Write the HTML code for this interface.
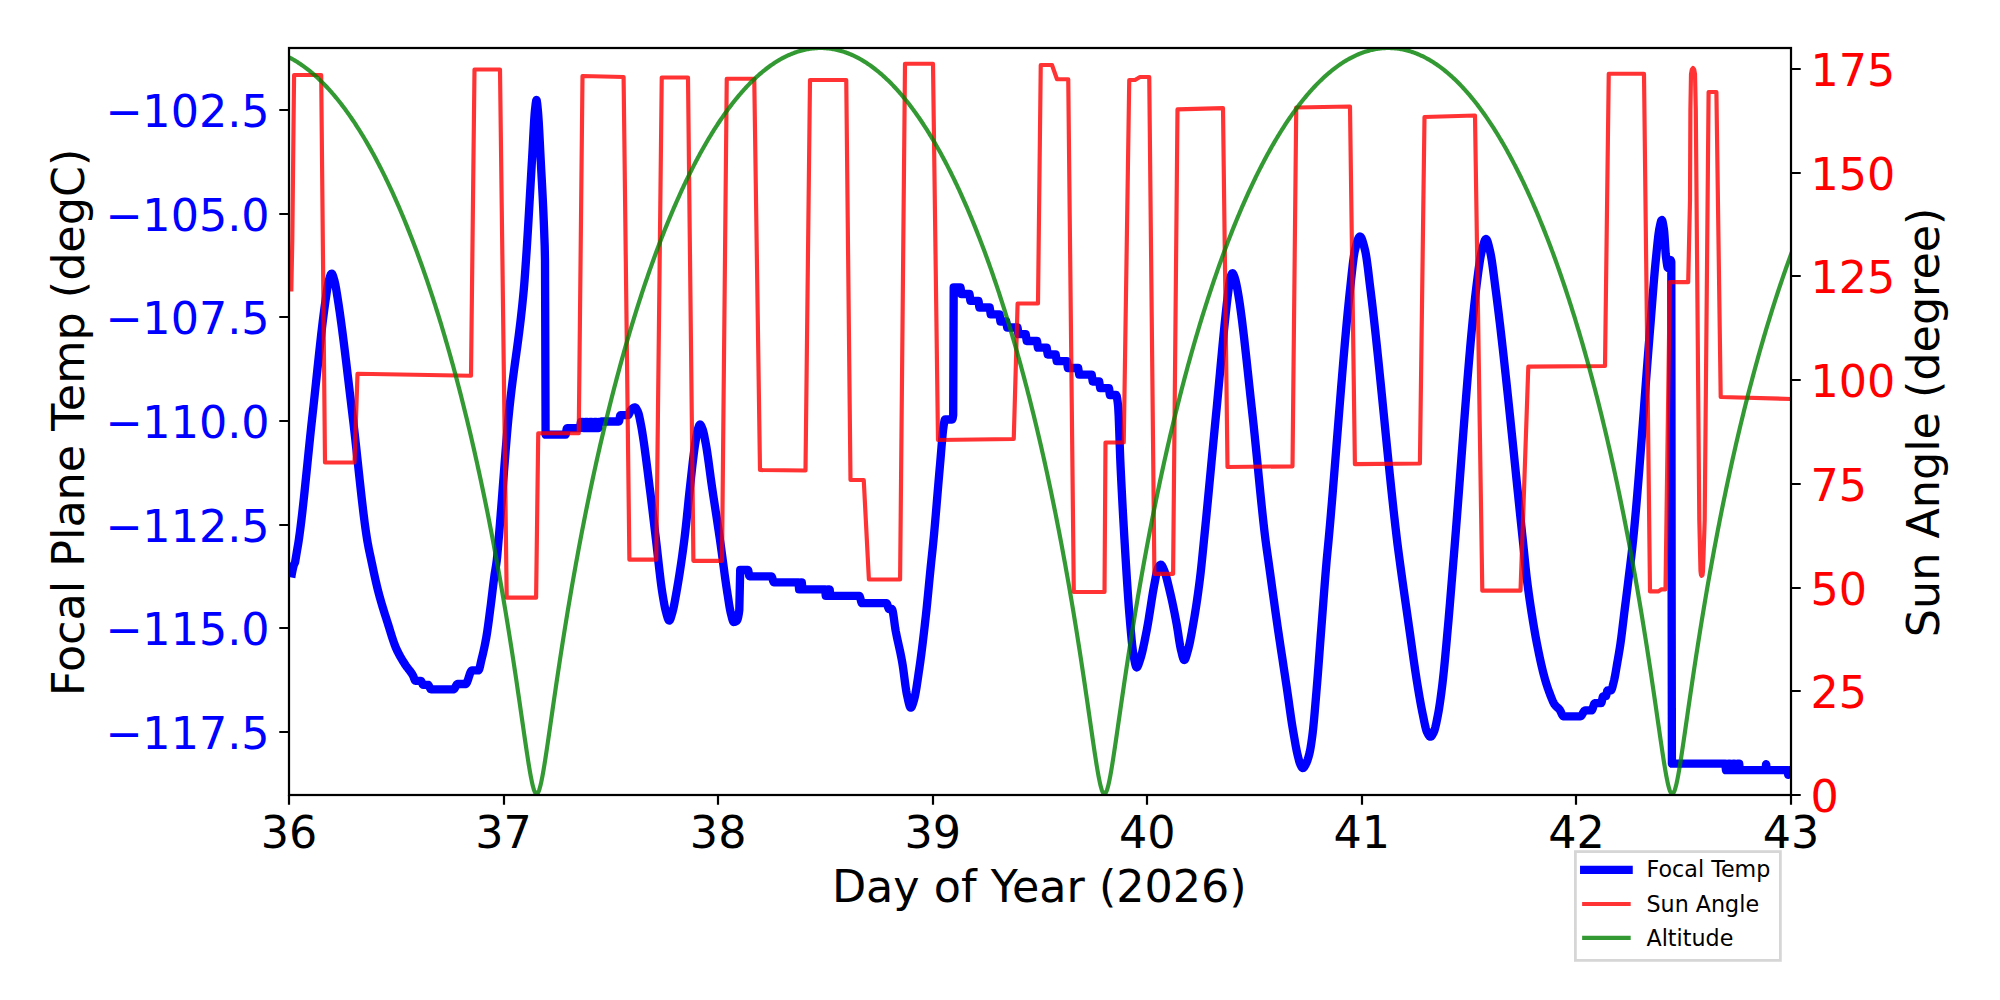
<!DOCTYPE html>
<html><head><meta charset="utf-8"><title>Focal Plane Temp</title>
<style>html,body{margin:0;padding:0;background:#fff}svg{display:block}text{font-family:"DejaVu Sans","Liberation Sans",sans-serif}</style></head><body>
<svg width="2000" height="1000" viewBox="0 0 2000 1000">
<rect width="2000" height="1000" fill="#fff"/>
<defs><clipPath id="ax"><rect x="289.0" y="48.0" width="1502.0" height="747.0"/></clipPath></defs>
<g clip-path="url(#ax)" fill="none" stroke-linejoin="round">
<path d="M291.20,577.50 L291.70,574.58 L292.20,571.92 L292.60,570.00 L292.70,569.55 L293.20,567.33 L293.70,565.40 L294.00,564.50 L294.20,564.05 L294.70,563.21 L295.00,562.50 L295.20,561.68 L295.70,558.60 L295.80,558.00 L296.20,555.63 L296.70,552.60 L296.80,552.00 L297.20,549.66 L297.70,546.80 L298.20,543.86 L298.70,540.68 L298.80,540.00 L299.20,537.19 L299.70,533.54 L300.20,529.73 L300.70,525.78 L301.20,521.69 L301.70,517.49 L302.20,513.17 L302.70,508.74 L303.20,504.22 L303.70,499.62 L304.20,494.94 L304.70,490.19 L305.20,485.39 L305.70,480.54 L306.20,475.66 L306.70,470.75 L307.20,465.82 L307.70,460.88 L308.20,455.95 L308.70,451.02 L309.20,446.12 L309.70,441.25 L310.20,436.42 L310.70,431.64 L311.20,426.92 L311.70,422.27 L312.20,417.70 L312.50,415.00 L312.70,413.21 L313.20,408.68 L313.70,404.10 L314.20,399.48 L314.70,394.82 L315.20,390.13 L315.70,385.42 L316.20,380.70 L316.70,375.98 L317.20,371.26 L317.70,366.55 L318.20,361.86 L318.70,357.20 L319.20,352.57 L319.70,347.99 L320.20,343.46 L320.70,338.99 L321.20,334.59 L321.70,330.26 L322.20,326.02 L322.70,321.86 L323.20,317.81 L323.70,313.87 L324.20,310.04 L324.70,306.33 L325.20,302.76 L325.60,300.00 L325.70,299.32 L326.20,295.89 L326.70,292.48 L327.20,289.20 L327.70,286.14 L328.20,283.42 L328.70,281.13 L329.00,280.00 L329.20,279.31 L329.70,277.58 L330.20,275.98 L330.70,274.68 L331.20,273.83 L331.60,273.60 L331.70,273.61 L332.20,274.08 L332.70,275.09 L333.20,276.50 L333.70,278.17 L334.20,279.94 L334.50,281.00 L334.70,281.73 L335.20,283.89 L335.70,286.44 L336.20,289.29 L336.70,292.35 L337.20,295.52 L337.70,298.73 L337.90,300.00 L338.20,301.91 L338.70,305.17 L339.20,308.52 L339.70,311.96 L340.20,315.48 L340.70,319.07 L341.20,322.73 L341.70,326.46 L342.20,330.26 L342.70,334.11 L343.20,338.02 L343.70,341.98 L344.20,345.98 L344.70,350.02 L345.20,354.10 L345.70,358.21 L346.20,362.35 L346.70,366.51 L347.20,370.69 L347.70,374.89 L348.20,379.09 L348.70,383.30 L349.20,387.51 L349.70,391.72 L350.20,395.92 L350.70,400.10 L351.20,404.27 L351.70,408.42 L352.20,412.54 L352.50,415.00 L352.70,416.64 L353.20,420.83 L353.70,425.10 L354.20,429.46 L354.70,433.89 L355.20,438.39 L355.70,442.94 L356.20,447.53 L356.70,452.16 L357.20,456.82 L357.70,461.49 L358.20,466.16 L358.70,470.83 L359.20,475.49 L359.70,480.12 L360.20,484.72 L360.70,489.27 L361.20,493.77 L361.70,498.20 L362.20,502.57 L362.70,506.85 L363.20,511.03 L363.70,515.12 L364.20,519.09 L364.70,522.94 L365.20,526.65 L365.70,530.23 L366.20,533.65 L366.70,536.91 L367.20,540.00 L367.70,542.90 L368.20,545.61 L368.70,548.18 L369.20,550.63 L369.70,553.01 L370.20,555.34 L370.70,557.66 L371.20,560.00 L371.70,562.37 L372.20,564.73 L372.70,567.09 L373.20,569.43 L373.70,571.76 L374.20,574.07 L374.70,576.35 L375.20,578.61 L375.70,580.82 L376.20,583.00 L376.70,585.14 L377.20,587.22 L377.70,589.25 L378.20,591.23 L378.40,592.00 L378.70,593.14 L379.20,595.02 L379.70,596.85 L380.20,598.65 L380.70,600.41 L381.20,602.14 L381.70,603.85 L382.20,605.53 L382.70,607.18 L383.20,608.82 L383.70,610.44 L384.20,612.04 L384.70,613.63 L385.20,615.21 L385.70,616.78 L386.20,618.35 L386.70,619.92 L387.20,621.49 L387.70,623.06 L388.00,624.00 L388.20,624.63 L388.70,626.23 L389.20,627.84 L389.70,629.47 L390.20,631.10 L390.70,632.72 L391.20,634.33 L391.70,635.93 L392.20,637.51 L392.70,639.05 L393.20,640.56 L393.70,642.02 L394.20,643.43 L394.70,644.79 L395.20,646.08 L395.70,647.30 L396.00,648.00 L396.20,648.45 L396.70,649.55 L397.20,650.62 L397.70,651.66 L398.20,652.66 L398.70,653.64 L399.20,654.58 L399.70,655.51 L400.20,656.41 L400.70,657.29 L401.20,658.15 L401.70,659.00 L402.20,659.83 L402.70,660.65 L403.20,661.46 L403.70,662.26 L404.20,663.05 L404.70,663.84 L404.80,664.00 L405.20,664.62 L405.70,665.36 L406.20,666.06 L406.70,666.74 L407.20,667.41 L407.70,668.05 L408.20,668.69 L408.70,669.32 L409.20,669.96 L409.70,670.61 L410.20,671.27 L410.70,671.96 L411.20,672.67 L411.70,673.42 L412.20,674.20 L412.70,675.03 L412.80,675.20 L413.20,676.03 L413.70,677.34 L414.20,678.72 L414.70,679.90 L415.20,680.66 L415.50,680.80 L415.70,680.80 L416.20,680.80 L416.70,680.80 L417.20,680.80 L417.70,680.80 L418.20,680.80 L418.70,680.80 L419.20,680.80 L419.70,680.80 L420.20,680.80 L420.70,680.80 L420.80,680.80 L421.20,681.10 L421.70,682.07 L422.20,683.30 L422.70,684.35 L423.20,684.80 L423.70,684.80 L424.20,684.80 L424.70,684.80 L425.20,684.80 L425.70,684.80 L426.20,684.80 L426.70,684.80 L427.20,684.80 L427.70,684.80 L428.00,684.80 L428.20,684.86 L428.70,685.42 L429.20,686.38 L429.70,687.50 L430.20,688.51 L430.70,689.17 L431.00,689.30 L431.20,689.30 L431.70,689.30 L432.20,689.30 L432.70,689.30 L433.20,689.30 L433.70,689.30 L434.20,689.30 L434.70,689.30 L435.20,689.30 L435.70,689.30 L436.20,689.30 L436.70,689.30 L437.20,689.30 L437.70,689.30 L438.20,689.30 L438.70,689.30 L439.20,689.30 L439.70,689.30 L440.20,689.30 L440.70,689.30 L441.20,689.30 L441.70,689.30 L442.20,689.30 L442.70,689.30 L443.20,689.30 L443.70,689.30 L444.20,689.30 L444.70,689.30 L445.20,689.30 L445.70,689.30 L446.20,689.30 L446.70,689.30 L447.20,689.30 L447.70,689.30 L448.20,689.30 L448.70,689.30 L449.20,689.30 L449.70,689.30 L450.20,689.30 L450.70,689.30 L451.20,689.30 L451.70,689.30 L452.20,689.30 L452.70,689.30 L453.20,689.30 L453.60,689.30 L453.70,689.29 L454.20,688.98 L454.70,688.32 L455.20,687.43 L455.70,686.45 L456.20,685.49 L456.70,684.68 L457.20,684.15 L457.60,684.00 L457.70,684.00 L458.20,684.00 L458.70,684.00 L459.20,684.00 L459.70,684.00 L460.20,684.00 L460.70,684.00 L461.20,684.00 L461.70,684.00 L462.20,684.00 L462.70,684.00 L463.20,684.00 L463.70,684.00 L464.20,684.00 L464.70,684.00 L465.20,684.00 L465.60,684.00 L465.70,683.99 L466.20,683.66 L466.70,682.93 L467.20,681.88 L467.70,680.57 L468.20,679.09 L468.70,677.52 L469.20,675.93 L469.70,674.41 L470.20,673.02 L470.70,671.86 L471.20,670.98 L471.70,670.49 L472.00,670.40 L472.20,670.40 L472.70,670.40 L473.20,670.40 L473.70,670.40 L474.20,670.40 L474.70,670.40 L475.20,670.40 L475.70,670.40 L476.20,670.40 L476.70,670.40 L477.20,670.40 L477.70,670.40 L478.20,670.40 L478.40,670.40 L478.70,670.22 L479.20,669.24 L479.70,667.60 L480.20,665.51 L480.70,663.20 L481.20,660.89 L481.60,659.20 L481.70,658.80 L482.20,656.79 L482.70,654.73 L483.20,652.60 L483.70,650.40 L484.20,648.12 L484.70,645.74 L485.20,643.26 L485.70,640.66 L486.20,637.93 L486.40,636.80 L486.70,635.03 L487.20,631.86 L487.70,628.44 L488.20,624.83 L488.70,621.08 L489.20,617.24 L489.70,613.37 L490.20,609.52 L490.40,608.00 L490.70,605.69 L491.20,601.72 L491.70,597.63 L492.20,593.48 L492.70,589.34 L493.20,585.25 L493.70,581.27 L494.20,577.46 L494.40,576.00 L494.70,573.93 L495.20,570.78 L495.70,567.75 L496.20,564.53 L496.70,560.83 L496.80,560.00 L497.20,556.23 L497.70,550.70 L498.20,544.73 L498.60,540.00 L498.70,538.84 L499.20,532.95 L499.70,526.89 L500.20,520.69 L500.70,514.38 L501.20,507.98 L501.70,501.50 L502.20,494.97 L502.70,488.41 L503.20,481.85 L503.70,475.30 L504.20,468.79 L504.70,462.33 L505.20,455.96 L505.70,449.70 L506.20,443.56 L506.70,437.56 L507.20,431.74 L507.70,426.11 L508.20,420.69 L508.70,415.50 L508.75,415.00 L509.20,410.55 L509.70,405.78 L510.20,401.19 L510.70,396.75 L511.20,392.46 L511.70,388.30 L512.20,384.26 L512.70,380.32 L513.20,376.46 L513.70,372.68 L514.20,368.96 L514.70,365.28 L515.20,361.64 L515.70,358.01 L516.20,354.38 L516.70,350.74 L517.20,347.08 L517.70,343.37 L518.20,339.61 L518.70,335.78 L519.20,331.86 L519.70,327.85 L520.20,323.73 L520.70,319.48 L521.20,315.09 L521.70,310.55 L522.20,305.84 L522.70,300.94 L523.20,295.85 L523.70,290.54 L523.75,290.00 L524.20,284.80 L524.70,278.40 L525.20,271.53 L525.70,264.36 L526.00,260.00 L526.20,257.06 L526.70,249.48 L527.20,241.61 L527.70,233.50 L528.20,225.18 L528.70,216.71 L529.20,208.13 L529.70,199.47 L530.20,190.79 L530.70,182.13 L531.20,173.53 L531.70,165.03 L532.00,160.00 L532.20,156.57 L532.70,147.38 L533.20,137.82 L533.70,128.50 L534.20,120.07 L534.70,113.16 L535.00,110.00 L535.20,108.15 L535.70,103.69 L536.20,100.60 L536.50,100.00 L536.70,100.34 L537.20,103.55 L537.70,108.71 L538.00,112.00 L538.20,114.31 L538.70,121.51 L539.20,130.27 L539.70,139.99 L540.20,150.10 L540.70,160.00 L541.20,169.40 L541.70,178.59 L542.20,187.90 L542.70,197.62 L543.20,208.07 L543.70,219.57 L544.20,232.41 L544.40,238.00 L544.70,246.26 L545.00,260.00 L545.20,311.08 L545.60,434.70 L545.70,434.70 L546.20,434.70 L546.70,434.70 L547.20,434.70 L547.70,434.70 L548.20,434.70 L548.70,434.70 L549.20,434.70 L549.70,434.70 L550.20,434.70 L550.70,434.70 L551.20,434.70 L551.70,434.70 L552.20,434.70 L552.70,434.70 L553.20,434.70 L553.70,434.70 L554.20,434.70 L554.70,434.70 L555.20,434.70 L555.70,434.70 L556.20,434.70 L556.70,434.70 L557.20,434.70 L557.70,434.70 L558.20,434.70 L558.70,434.70 L559.20,434.70 L559.70,434.70 L560.20,434.70 L560.70,434.70 L561.20,434.70 L561.70,434.70 L562.20,434.70 L562.70,434.70 L563.20,434.70 L563.70,434.70 L564.20,434.70 L564.70,434.70 L565.20,434.70 L565.50,434.70 L565.70,434.38 L566.20,431.73 L566.70,428.79 L567.00,428.10 L567.20,428.10 L567.70,428.10 L568.20,428.10 L568.70,428.10 L569.20,428.10 L569.70,428.10 L570.20,428.10 L570.70,428.10 L571.20,428.10 L571.70,428.10 L572.20,428.10 L572.70,428.10 L573.20,428.10 L573.70,428.10 L574.20,428.10 L574.70,428.10 L575.20,428.10 L575.70,428.10 L576.20,428.10 L576.70,428.10 L577.20,428.10 L577.70,428.10 L578.20,428.10 L578.70,428.10 L579.20,428.10 L579.70,428.10 L580.00,428.10 L580.20,427.47 L580.70,423.32 L581.00,422.00 L581.20,422.00 L581.70,422.00 L582.20,422.00 L582.70,422.00 L582.80,422.00 L583.20,425.70 L583.50,428.10 L583.70,428.10 L584.20,428.10 L584.70,428.10 L584.80,428.10 L585.20,424.40 L585.50,422.00 L585.70,422.00 L586.20,422.00 L586.70,422.00 L587.20,422.00 L587.30,422.00 L587.70,425.70 L588.00,428.10 L588.20,428.10 L588.70,428.10 L589.20,428.10 L589.30,428.10 L589.70,424.40 L590.00,422.00 L590.20,422.00 L590.70,422.00 L591.20,422.00 L591.70,422.00 L591.80,422.00 L592.20,425.70 L592.50,428.10 L592.70,428.10 L593.20,428.10 L593.70,428.10 L593.80,428.10 L594.20,424.40 L594.50,422.00 L594.70,422.00 L595.20,422.00 L595.70,422.00 L596.20,422.00 L596.30,422.00 L596.70,425.70 L597.00,428.10 L597.20,428.10 L597.70,428.10 L598.20,428.10 L598.30,428.10 L598.70,424.40 L599.00,422.00 L599.20,422.00 L599.70,422.00 L600.20,422.00 L600.50,422.00 L600.70,421.95 L601.20,421.61 L601.50,421.50 L601.70,421.50 L602.20,421.50 L602.70,421.50 L603.20,421.50 L603.70,421.50 L604.20,421.50 L604.70,421.50 L605.20,421.50 L605.70,421.50 L606.20,421.50 L606.70,421.50 L607.20,421.50 L607.70,421.50 L608.20,421.50 L608.70,421.50 L609.20,421.50 L609.70,421.50 L610.20,421.50 L610.70,421.50 L611.20,421.50 L611.70,421.50 L612.20,421.50 L612.70,421.50 L613.20,421.50 L613.70,421.50 L614.20,421.50 L614.70,421.50 L615.20,421.50 L615.70,421.50 L616.20,421.50 L616.70,421.50 L617.20,421.50 L617.70,421.50 L618.20,421.50 L618.70,421.50 L618.90,421.50 L619.20,420.84 L619.70,418.04 L620.20,415.51 L620.40,415.20 L620.70,415.20 L621.20,415.20 L621.70,415.20 L622.20,415.20 L622.70,415.20 L623.20,415.20 L623.70,415.20 L624.20,415.20 L624.70,415.20 L625.20,415.20 L625.70,415.20 L626.20,415.20 L626.70,415.20 L627.20,415.20 L627.70,415.20 L628.00,415.20 L628.20,415.15 L628.70,414.61 L629.20,413.66 L629.70,412.50 L630.20,411.34 L630.70,410.39 L631.00,410.00 L631.20,409.80 L631.70,409.30 L632.20,408.83 L632.70,408.39 L633.20,408.01 L633.70,407.70 L634.20,407.49 L634.70,407.40 L634.80,407.40 L635.20,407.50 L635.70,407.89 L636.20,408.52 L636.70,409.34 L637.20,410.30 L637.70,411.35 L638.00,412.00 L638.20,412.48 L638.70,414.03 L639.20,416.02 L639.70,418.31 L640.20,420.82 L640.70,423.43 L641.00,425.00 L641.20,426.06 L641.70,428.82 L642.20,431.77 L642.70,434.87 L643.20,438.12 L643.70,441.51 L644.20,445.02 L644.70,448.63 L645.20,452.34 L645.70,456.13 L646.20,459.98 L646.70,463.89 L647.20,467.83 L647.70,471.80 L648.20,475.78 L648.70,479.76 L649.20,483.72 L649.70,487.66 L650.00,490.00 L650.20,491.56 L650.70,495.53 L651.20,499.57 L651.70,503.67 L652.20,507.83 L652.70,512.03 L653.20,516.26 L653.70,520.51 L654.20,524.77 L654.70,529.02 L655.20,533.27 L655.70,537.48 L656.00,540.00 L656.20,541.69 L656.70,546.00 L657.20,550.42 L657.70,554.92 L658.20,559.45 L658.70,563.97 L659.20,568.45 L659.70,572.83 L660.20,577.08 L660.70,581.17 L661.20,585.04 L661.70,588.67 L662.20,592.00 L662.70,595.14 L663.20,598.19 L663.70,601.12 L664.20,603.88 L664.70,606.45 L665.20,608.80 L665.70,610.89 L666.00,612.00 L666.20,612.72 L666.70,614.56 L667.20,616.37 L667.70,618.02 L668.20,619.36 L668.70,620.27 L669.20,620.60 L669.70,620.29 L670.20,619.43 L670.70,618.15 L671.20,616.57 L671.70,614.83 L672.20,613.04 L672.50,612.00 L672.70,611.30 L673.20,609.33 L673.70,607.10 L674.20,604.66 L674.70,602.06 L675.20,599.33 L675.70,596.53 L676.20,593.69 L676.50,592.00 L676.70,590.87 L677.20,588.00 L677.70,585.07 L678.20,582.08 L678.70,579.03 L679.20,575.91 L679.70,572.73 L680.20,569.47 L680.70,566.15 L681.20,562.75 L681.70,559.28 L682.20,555.74 L682.70,552.12 L683.20,548.42 L683.70,544.64 L684.20,540.78 L684.30,540.00 L684.70,536.78 L685.20,532.51 L685.70,528.03 L686.20,523.37 L686.70,518.58 L687.20,513.71 L687.70,508.80 L688.20,503.90 L688.70,499.05 L689.20,494.30 L689.70,489.68 L690.00,487.00 L690.20,485.23 L690.70,480.74 L691.20,476.19 L691.70,471.65 L692.20,467.15 L692.70,462.74 L693.20,458.48 L693.70,454.40 L694.20,450.55 L694.70,446.98 L695.00,445.00 L695.20,443.72 L695.70,440.54 L696.20,437.49 L696.70,434.65 L697.20,432.13 L697.70,430.02 L698.00,429.00 L698.20,428.37 L698.70,426.82 L699.20,425.49 L699.70,424.66 L700.00,424.50 L700.20,424.54 L700.70,425.00 L701.20,425.86 L701.70,426.98 L702.20,428.24 L702.50,429.00 L702.70,429.54 L703.20,431.19 L703.70,433.19 L704.20,435.48 L704.70,437.99 L705.20,440.64 L705.70,443.36 L706.00,445.00 L706.20,446.11 L706.70,449.06 L707.20,452.23 L707.70,455.59 L708.20,459.11 L708.70,462.74 L709.20,466.45 L709.70,470.21 L710.20,473.97 L710.70,477.70 L711.20,481.37 L711.70,484.93 L712.00,487.00 L712.20,488.36 L712.70,491.73 L713.20,495.07 L713.70,498.38 L714.20,501.67 L714.70,504.94 L715.20,508.20 L715.70,511.45 L716.20,514.70 L716.70,517.96 L717.20,521.23 L717.70,524.51 L718.20,527.82 L718.70,531.16 L719.20,534.53 L719.70,537.93 L720.00,540.00 L720.20,541.39 L720.70,544.93 L721.20,548.56 L721.70,552.24 L722.20,555.97 L722.70,559.73 L723.20,563.49 L723.70,567.26 L724.20,571.00 L724.70,574.69 L725.20,578.34 L725.70,581.91 L726.20,585.38 L726.70,588.75 L727.20,592.00 L727.70,595.22 L728.20,598.47 L728.70,601.69 L729.20,604.80 L729.70,607.73 L730.20,610.41 L730.70,612.77 L731.00,614.00 L731.20,614.79 L731.70,616.81 L732.20,618.76 L732.70,620.42 L733.20,621.57 L733.70,622.00 L734.20,621.96 L734.70,621.86 L735.20,621.69 L735.70,621.47 L736.20,621.19 L736.50,621.00 L736.70,620.84 L737.20,620.13 L737.70,618.89 L738.20,617.00 L738.70,614.35 L739.20,610.82 L739.30,610.00 L739.70,592.28 L740.20,570.00 L740.70,570.00 L741.20,570.00 L741.70,570.00 L742.20,570.00 L742.70,570.00 L743.20,570.00 L743.70,570.00 L744.20,570.00 L744.70,570.00 L745.20,570.00 L745.70,570.00 L746.20,570.00 L746.70,570.00 L747.20,570.00 L747.70,570.00 L748.00,570.00 L748.20,570.31 L748.70,572.88 L749.20,575.73 L749.50,576.40 L749.70,576.40 L750.20,576.40 L750.70,576.40 L751.20,576.40 L751.70,576.40 L752.20,576.40 L752.70,576.40 L753.20,576.40 L753.70,576.40 L754.20,576.40 L754.70,576.40 L755.20,576.40 L755.70,576.40 L756.20,576.40 L756.70,576.40 L757.20,576.40 L757.70,576.40 L758.20,576.40 L758.70,576.40 L759.20,576.40 L759.70,576.40 L760.20,576.40 L760.70,576.40 L761.20,576.40 L761.70,576.40 L762.20,576.40 L762.70,576.40 L763.20,576.40 L763.70,576.40 L764.20,576.40 L764.70,576.40 L765.20,576.40 L765.70,576.40 L766.20,576.40 L766.70,576.40 L767.20,576.40 L767.70,576.40 L768.20,576.40 L768.70,576.40 L769.20,576.40 L769.70,576.40 L770.20,576.40 L770.70,576.40 L771.20,576.40 L771.40,576.40 L771.70,576.62 L772.20,577.75 L772.70,579.40 L773.20,581.05 L773.70,582.18 L774.00,582.40 L774.20,582.40 L774.70,582.40 L775.20,582.40 L775.70,582.40 L776.20,582.40 L776.70,582.40 L777.20,582.40 L777.70,582.40 L778.20,582.40 L778.70,582.40 L779.20,582.40 L779.70,582.40 L780.20,582.40 L780.70,582.40 L781.20,582.40 L781.70,582.40 L782.20,582.40 L782.70,582.40 L783.20,582.40 L783.70,582.40 L784.20,582.40 L784.70,582.40 L785.20,582.40 L785.70,582.40 L786.20,582.40 L786.70,582.40 L787.20,582.40 L787.70,582.40 L788.20,582.40 L788.70,582.40 L789.20,582.40 L789.70,582.40 L790.20,582.40 L790.70,582.40 L791.20,582.40 L791.70,582.40 L792.20,582.40 L792.70,582.40 L793.20,582.40 L793.70,582.40 L794.20,582.40 L794.70,582.40 L795.20,582.40 L795.70,582.40 L796.20,582.40 L796.70,582.40 L797.20,582.40 L797.70,582.40 L798.20,582.40 L798.50,582.40 L798.70,584.21 L799.10,589.40 L799.20,589.40 L799.70,589.40 L800.20,589.40 L800.70,582.92 L800.80,582.40 L801.20,582.40 L801.70,582.40 L801.80,582.40 L802.20,586.64 L802.50,589.40 L802.70,589.40 L803.20,589.40 L803.70,589.40 L804.20,589.40 L804.70,589.40 L805.20,589.40 L805.70,589.40 L806.20,589.40 L806.70,589.40 L807.20,589.40 L807.70,589.40 L808.20,589.40 L808.70,589.40 L809.20,589.40 L809.70,589.40 L810.20,589.40 L810.70,589.40 L811.20,589.40 L811.70,589.40 L812.20,589.40 L812.70,589.40 L813.20,589.40 L813.70,589.40 L814.20,589.40 L814.70,589.40 L815.20,589.40 L815.70,589.40 L816.20,589.40 L816.70,589.40 L817.20,589.40 L817.70,589.40 L818.20,589.40 L818.70,589.40 L819.20,589.40 L819.70,589.40 L820.20,589.40 L820.70,589.40 L821.20,589.40 L821.70,589.40 L822.20,589.40 L822.70,589.40 L823.20,589.40 L823.70,589.40 L824.20,589.40 L824.70,589.40 L825.20,589.40 L825.70,595.42 L825.80,595.90 L826.20,595.90 L826.70,595.90 L827.20,595.90 L827.70,589.88 L827.80,589.40 L828.20,589.40 L828.70,589.40 L829.20,589.40 L829.60,589.40 L829.70,589.68 L830.20,594.88 L830.40,595.90 L830.70,595.90 L831.20,595.90 L831.70,595.90 L832.20,595.90 L832.70,595.90 L833.20,595.90 L833.70,595.90 L834.20,595.90 L834.70,595.90 L835.20,595.90 L835.70,595.90 L836.20,595.90 L836.70,595.90 L837.20,595.90 L837.70,595.90 L838.20,595.90 L838.70,595.90 L839.20,595.90 L839.70,595.90 L840.20,595.90 L840.70,595.90 L841.20,595.90 L841.70,595.90 L842.20,595.90 L842.70,595.90 L843.20,595.90 L843.70,595.90 L844.20,595.90 L844.70,595.90 L845.20,595.90 L845.70,595.90 L846.20,595.90 L846.70,595.90 L847.20,595.90 L847.70,595.90 L848.20,595.90 L848.70,595.90 L849.20,595.90 L849.70,595.90 L850.20,595.90 L850.70,595.90 L851.20,595.90 L851.70,595.90 L852.20,595.90 L852.70,595.90 L853.20,595.90 L853.70,595.90 L854.20,595.90 L854.70,595.90 L855.20,595.90 L855.70,595.90 L856.20,595.90 L856.70,595.90 L857.20,595.90 L857.70,595.90 L858.20,595.90 L858.70,595.90 L859.20,595.90 L859.30,595.90 L859.70,596.33 L860.20,597.79 L860.70,599.75 L861.20,601.66 L861.70,602.95 L862.00,603.20 L862.20,603.20 L862.70,603.20 L863.20,603.20 L863.70,603.20 L864.20,603.20 L864.70,603.20 L865.20,603.20 L865.70,603.20 L866.20,603.20 L866.70,603.20 L867.20,603.20 L867.70,603.20 L868.20,603.20 L868.70,603.20 L869.20,603.20 L869.70,603.20 L870.20,603.20 L870.70,603.20 L871.20,603.20 L871.70,603.20 L872.20,603.20 L872.70,603.20 L873.20,603.20 L873.70,603.20 L874.20,603.20 L874.70,603.20 L875.20,603.20 L875.70,603.20 L876.20,603.20 L876.70,603.20 L877.20,603.20 L877.70,603.20 L878.20,603.20 L878.70,603.20 L879.20,603.20 L879.70,603.20 L880.20,603.20 L880.70,603.20 L881.20,603.20 L881.70,603.20 L882.20,603.20 L882.70,603.20 L883.20,603.20 L883.70,603.20 L884.20,603.20 L884.70,603.20 L885.20,603.20 L885.70,603.20 L886.20,603.20 L886.60,603.20 L886.70,603.23 L887.20,604.11 L887.70,605.74 L888.20,607.50 L888.70,608.75 L889.00,609.00 L889.20,609.00 L889.70,609.00 L890.20,609.00 L890.70,609.00 L891.20,609.00 L891.70,609.00 L891.80,609.00 L892.20,609.45 L892.70,611.14 L893.20,613.79 L893.70,617.10 L894.20,620.77 L894.70,624.52 L895.20,628.02 L895.70,631.00 L896.20,633.55 L896.70,635.99 L897.20,638.34 L897.70,640.63 L898.20,642.87 L898.70,645.10 L899.20,647.34 L899.70,649.61 L900.20,651.93 L900.70,654.32 L901.20,656.82 L901.70,659.44 L902.20,662.20 L902.70,665.27 L903.20,668.71 L903.70,672.41 L904.20,676.26 L904.70,680.13 L905.20,683.91 L905.70,687.48 L906.20,690.74 L906.70,693.56 L907.00,695.00 L907.20,695.90 L907.70,698.20 L908.20,700.49 L908.70,702.65 L909.20,704.57 L909.70,706.13 L910.20,707.20 L910.70,707.69 L910.80,707.70 L911.20,707.51 L911.70,706.82 L912.20,705.71 L912.70,704.30 L913.20,702.69 L913.70,701.01 L914.00,700.00 L914.20,699.30 L914.70,697.29 L915.20,694.93 L915.70,692.27 L916.20,689.35 L916.70,686.23 L917.20,682.96 L917.70,679.58 L918.20,676.15 L918.70,672.72 L919.10,670.00 L919.20,669.32 L919.70,665.87 L920.20,662.30 L920.70,658.62 L921.20,654.84 L921.70,650.96 L922.20,646.99 L922.70,642.93 L923.20,638.79 L923.70,634.58 L924.20,630.30 L924.70,625.95 L925.20,621.56 L925.60,618.00 L925.70,617.10 L926.20,612.49 L926.70,607.70 L927.20,602.75 L927.70,597.70 L928.20,592.56 L928.70,587.39 L929.20,582.21 L929.70,577.05 L930.20,571.97 L930.70,566.98 L930.80,566.00 L931.20,562.14 L931.70,557.42 L932.20,552.72 L932.70,547.97 L933.20,543.06 L933.50,540.00 L933.70,537.91 L934.20,532.54 L934.70,527.00 L935.20,521.31 L935.70,515.50 L936.20,509.60 L936.70,503.65 L937.20,497.66 L937.70,491.68 L938.20,485.73 L938.70,479.83 L939.20,474.03 L939.70,468.34 L940.00,465.00 L940.20,462.75 L940.70,456.84 L941.20,450.73 L941.70,444.63 L942.20,438.81 L942.70,433.48 L943.20,428.90 L943.70,425.30 L943.75,425.00 L944.20,422.30 L944.70,419.98 L945.00,419.50 L945.20,419.50 L945.70,419.50 L946.20,419.50 L946.70,419.50 L947.20,419.50 L947.70,419.50 L948.20,419.50 L948.70,419.50 L949.20,419.50 L949.70,419.50 L950.20,419.50 L950.70,419.50 L951.20,419.50 L951.70,419.50 L952.00,419.50 L952.20,419.40 L952.70,418.14 L953.20,415.00 L953.70,287.40 L954.20,287.40 L954.70,287.40 L955.20,287.40 L955.70,287.40 L956.20,287.40 L956.70,287.40 L957.20,287.40 L957.70,287.40 L958.20,287.40 L958.70,287.40 L959.20,287.40 L959.70,287.40 L960.20,287.40 L960.45,287.40 L960.70,288.43 L961.20,292.97 L961.45,294.00 L961.70,294.00 L962.20,294.00 L962.70,294.00 L963.20,294.00 L963.70,294.00 L964.20,294.00 L964.70,294.00 L965.20,294.00 L965.70,294.00 L966.20,294.00 L966.70,294.00 L967.20,294.00 L967.70,294.00 L968.20,294.00 L968.70,294.00 L969.20,294.00 L969.45,294.00 L969.70,295.08 L970.20,299.82 L970.45,300.90 L970.70,300.90 L971.20,300.90 L971.70,300.90 L972.20,300.90 L972.70,300.90 L973.20,300.90 L973.70,300.90 L974.20,300.90 L974.70,300.90 L975.20,300.90 L975.70,300.90 L976.20,300.90 L976.70,300.90 L977.20,300.90 L977.70,300.90 L978.20,300.90 L978.45,300.90 L978.70,301.93 L979.20,306.47 L979.45,307.50 L979.70,307.50 L980.20,307.50 L980.70,307.50 L981.20,307.50 L981.70,307.50 L982.20,307.50 L982.70,307.50 L983.20,307.50 L983.70,307.50 L984.20,307.50 L984.70,307.50 L985.20,307.50 L985.70,307.50 L986.20,307.50 L986.70,307.50 L987.20,307.50 L987.70,307.50 L988.20,307.50 L988.70,307.50 L989.20,307.50 L989.70,307.50 L990.20,310.95 L990.70,314.40 L991.20,314.40 L991.70,314.40 L992.20,314.40 L992.70,314.40 L993.20,314.40 L993.70,314.40 L994.20,314.40 L994.70,314.40 L995.20,314.40 L995.70,314.40 L996.20,314.40 L996.70,314.40 L997.20,314.40 L997.70,314.40 L998.20,314.40 L998.70,314.40 L999.20,314.40 L999.45,314.40 L999.70,315.51 L1000.20,320.39 L1000.45,321.50 L1000.70,321.50 L1001.20,321.50 L1001.70,321.50 L1002.20,321.50 L1002.70,321.50 L1003.20,321.50 L1003.70,321.50 L1004.20,321.50 L1004.70,321.50 L1005.20,321.50 L1005.70,321.50 L1006.20,321.50 L1006.70,324.50 L1007.20,327.50 L1007.70,327.50 L1008.20,327.50 L1008.70,327.50 L1009.20,327.50 L1009.70,327.50 L1010.20,327.50 L1010.70,327.50 L1011.20,327.50 L1011.70,327.50 L1012.20,327.50 L1012.70,327.50 L1013.20,327.50 L1013.70,327.50 L1014.20,327.50 L1014.70,327.50 L1015.20,327.50 L1015.70,327.50 L1016.20,327.50 L1016.70,327.50 L1017.20,327.50 L1017.45,327.50 L1017.70,328.55 L1018.20,333.15 L1018.45,334.20 L1018.70,334.20 L1019.20,334.20 L1019.70,334.20 L1020.20,334.20 L1020.70,334.20 L1021.20,334.20 L1021.70,334.20 L1022.20,334.20 L1022.70,334.20 L1023.20,334.20 L1023.70,334.20 L1024.20,334.20 L1024.70,334.20 L1025.20,334.20 L1025.70,334.20 L1026.20,337.60 L1026.70,341.00 L1027.20,341.00 L1027.70,341.00 L1028.20,341.00 L1028.70,341.00 L1029.20,341.00 L1029.70,341.00 L1030.20,341.00 L1030.70,341.00 L1031.20,341.00 L1031.70,341.00 L1032.20,341.00 L1032.70,341.00 L1033.20,341.00 L1033.70,341.00 L1034.20,341.00 L1034.70,341.00 L1035.20,341.00 L1035.70,341.00 L1036.20,341.00 L1036.70,341.00 L1036.95,341.00 L1037.20,342.05 L1037.70,346.65 L1037.95,347.70 L1038.20,347.70 L1038.70,347.70 L1039.20,347.70 L1039.70,347.70 L1040.20,347.70 L1040.70,347.70 L1041.20,347.70 L1041.70,347.70 L1042.20,347.70 L1042.70,347.70 L1043.20,347.70 L1043.70,347.70 L1044.20,347.70 L1044.70,347.70 L1045.20,347.70 L1045.70,347.70 L1046.20,347.70 L1046.70,347.70 L1047.20,351.10 L1047.70,354.50 L1048.20,354.50 L1048.70,354.50 L1049.20,354.50 L1049.70,354.50 L1050.20,354.50 L1050.70,354.50 L1051.20,354.50 L1051.70,354.50 L1052.20,354.50 L1052.70,354.50 L1053.20,354.50 L1053.70,354.50 L1054.20,354.50 L1054.70,354.50 L1055.20,354.50 L1055.70,354.50 L1056.20,357.85 L1056.70,361.20 L1057.20,361.20 L1057.70,361.20 L1058.20,361.20 L1058.70,361.20 L1059.20,361.20 L1059.70,361.20 L1060.20,361.20 L1060.70,361.20 L1061.20,361.20 L1061.70,361.20 L1062.20,361.20 L1062.70,361.20 L1063.20,361.20 L1063.70,361.20 L1064.20,361.20 L1064.70,361.20 L1065.20,361.20 L1065.70,361.20 L1066.20,361.20 L1066.70,361.20 L1066.95,361.20 L1067.20,362.26 L1067.70,366.94 L1067.95,368.00 L1068.20,368.00 L1068.70,368.00 L1069.20,368.00 L1069.70,368.00 L1070.20,368.00 L1070.70,368.00 L1071.20,368.00 L1071.70,368.00 L1072.20,368.00 L1072.70,368.00 L1073.20,368.00 L1073.70,368.00 L1074.20,368.00 L1074.70,368.00 L1075.20,368.00 L1075.70,368.00 L1076.20,368.00 L1076.70,368.00 L1077.20,368.00 L1077.70,368.00 L1078.20,368.00 L1078.70,371.35 L1079.20,374.70 L1079.70,374.70 L1080.20,374.70 L1080.70,374.70 L1081.20,374.70 L1081.70,374.70 L1082.20,374.70 L1082.70,374.70 L1083.20,374.70 L1083.70,374.70 L1084.20,374.70 L1084.70,374.70 L1085.20,374.70 L1085.70,374.70 L1086.20,374.70 L1086.70,374.70 L1087.20,374.70 L1087.70,374.70 L1088.20,374.70 L1088.70,374.70 L1089.20,374.70 L1089.70,374.70 L1090.20,374.70 L1090.70,374.70 L1091.20,374.70 L1091.70,374.70 L1092.20,378.10 L1092.70,381.50 L1093.20,381.50 L1093.70,381.50 L1094.20,381.50 L1094.70,381.50 L1095.20,381.50 L1095.70,381.50 L1096.20,381.50 L1096.70,381.50 L1097.20,381.50 L1097.70,381.50 L1098.20,381.50 L1098.70,381.50 L1099.20,381.50 L1099.70,384.85 L1100.20,388.20 L1100.70,388.20 L1101.20,388.20 L1101.70,388.20 L1102.20,388.20 L1102.70,388.20 L1103.20,388.20 L1103.70,388.20 L1104.20,388.20 L1104.70,388.20 L1105.20,388.20 L1105.70,388.20 L1106.20,388.20 L1106.70,388.20 L1107.20,388.20 L1107.70,388.20 L1108.20,388.20 L1108.70,388.20 L1108.95,388.20 L1109.20,389.26 L1109.70,393.94 L1109.95,395.00 L1110.20,395.00 L1110.70,395.00 L1111.20,395.00 L1111.70,395.00 L1112.20,395.00 L1112.70,395.00 L1113.20,395.00 L1113.70,395.00 L1114.20,395.00 L1114.70,395.00 L1115.20,395.00 L1115.70,395.00 L1116.20,395.00 L1116.70,396.01 L1117.20,398.68 L1117.70,402.44 L1118.00,405.00 L1118.20,407.26 L1118.70,416.65 L1119.20,429.67 L1119.70,444.16 L1120.20,457.95 L1120.50,465.00 L1120.70,469.22 L1121.20,479.52 L1121.70,489.48 L1122.20,499.11 L1122.70,508.46 L1123.20,517.53 L1123.70,526.35 L1124.20,534.94 L1124.50,540.00 L1124.70,543.35 L1125.20,551.69 L1125.70,559.95 L1126.20,568.09 L1126.70,576.06 L1127.20,583.83 L1127.70,591.34 L1128.20,598.56 L1128.70,605.44 L1129.20,611.93 L1129.70,618.00 L1130.20,623.84 L1130.70,629.62 L1131.20,635.20 L1131.70,640.47 L1132.20,645.31 L1132.70,649.59 L1133.20,653.21 L1133.50,655.00 L1133.70,656.10 L1134.20,658.86 L1134.70,661.49 L1135.20,663.83 L1135.70,665.70 L1136.20,666.95 L1136.70,667.40 L1137.20,667.13 L1137.70,666.38 L1138.20,665.27 L1138.70,663.91 L1139.20,662.41 L1139.70,660.88 L1140.00,660.00 L1140.20,659.41 L1140.70,657.82 L1141.20,656.07 L1141.70,654.18 L1142.20,652.15 L1142.70,650.01 L1143.20,647.76 L1143.70,645.43 L1144.20,643.03 L1144.70,640.58 L1145.20,638.08 L1145.70,635.56 L1146.20,633.02 L1146.60,631.00 L1146.70,630.49 L1147.20,627.84 L1147.70,625.04 L1148.20,622.11 L1148.70,619.07 L1149.20,615.95 L1149.70,612.77 L1150.20,609.54 L1150.70,606.31 L1151.20,603.08 L1151.70,599.89 L1152.20,596.75 L1152.70,593.69 L1153.20,590.74 L1153.70,587.91 L1154.20,585.23 L1154.40,584.20 L1154.70,582.65 L1155.20,579.96 L1155.70,577.24 L1156.20,574.63 L1156.70,572.24 L1157.20,570.21 L1157.70,568.65 L1158.00,568.00 L1158.20,567.65 L1158.70,566.80 L1159.20,566.04 L1159.70,565.41 L1160.20,564.96 L1160.70,564.72 L1160.90,564.70 L1161.20,564.78 L1161.70,565.23 L1162.20,566.00 L1162.70,567.00 L1163.20,568.13 L1163.70,569.31 L1164.00,570.00 L1164.20,570.46 L1164.70,571.76 L1165.20,573.22 L1165.70,574.83 L1166.20,576.57 L1166.70,578.42 L1167.20,580.36 L1167.70,582.37 L1168.20,584.44 L1168.70,586.53 L1169.20,588.64 L1169.70,590.75 L1170.00,592.00 L1170.20,592.83 L1170.70,594.96 L1171.20,597.14 L1171.70,599.38 L1172.20,601.66 L1172.70,604.00 L1173.20,606.38 L1173.70,608.81 L1174.20,611.29 L1174.70,613.81 L1175.20,616.37 L1175.70,618.97 L1176.20,621.60 L1176.50,623.20 L1176.70,624.30 L1177.20,627.25 L1177.70,630.43 L1178.20,633.73 L1178.70,637.06 L1179.20,640.32 L1179.70,643.41 L1180.20,646.25 L1180.70,648.73 L1181.00,650.00 L1181.20,650.80 L1181.70,652.88 L1182.20,654.93 L1182.70,656.81 L1183.20,658.37 L1183.70,659.48 L1184.20,659.98 L1184.30,660.00 L1184.70,659.81 L1185.20,659.08 L1185.70,657.92 L1186.20,656.43 L1186.70,654.72 L1187.20,652.89 L1187.70,651.06 L1188.00,650.00 L1188.20,649.29 L1188.70,647.38 L1189.20,645.28 L1189.70,643.01 L1190.20,640.59 L1190.70,638.04 L1191.20,635.39 L1191.70,632.65 L1192.20,629.85 L1192.70,627.01 L1193.20,624.15 L1193.40,623.00 L1193.70,621.27 L1194.20,618.33 L1194.70,615.33 L1195.20,612.25 L1195.70,609.09 L1196.20,605.85 L1196.70,602.52 L1197.20,599.11 L1197.70,595.60 L1198.20,592.00 L1198.70,588.30 L1199.20,584.50 L1199.70,580.59 L1199.90,579.00 L1200.20,576.54 L1200.70,572.21 L1201.20,567.64 L1201.70,562.89 L1202.20,557.99 L1202.70,553.01 L1203.20,547.98 L1203.70,542.98 L1204.00,540.00 L1204.20,538.02 L1204.70,533.04 L1205.20,528.01 L1205.70,522.93 L1206.20,517.81 L1206.70,512.66 L1207.20,507.47 L1207.70,502.26 L1208.20,497.02 L1208.70,491.75 L1209.20,486.48 L1209.70,481.18 L1210.20,475.88 L1210.70,470.57 L1211.20,465.26 L1211.70,459.96 L1212.20,454.66 L1212.70,449.37 L1213.20,444.09 L1213.70,438.84 L1214.20,433.60 L1214.70,428.39 L1215.20,423.21 L1215.70,418.07 L1216.00,415.00 L1216.20,412.95 L1216.70,407.78 L1217.20,402.55 L1217.70,397.26 L1218.20,391.93 L1218.70,386.57 L1219.20,381.19 L1219.70,375.79 L1220.20,370.39 L1220.70,365.00 L1221.20,359.63 L1221.70,354.29 L1222.20,348.99 L1222.70,343.74 L1223.20,338.55 L1223.70,333.43 L1224.20,328.40 L1224.70,323.45 L1225.20,318.61 L1225.70,313.89 L1226.20,309.28 L1226.70,304.82 L1227.20,300.49 L1227.70,296.32 L1228.20,292.32 L1228.50,290.00 L1228.70,288.45 L1229.20,284.53 L1229.70,280.99 L1230.20,278.37 L1230.30,278.00 L1230.70,276.69 L1231.20,275.20 L1231.70,274.02 L1232.20,273.33 L1232.50,273.20 L1232.70,273.26 L1233.20,273.85 L1233.70,274.91 L1234.20,276.27 L1234.70,277.72 L1234.80,278.00 L1235.20,279.26 L1235.70,281.15 L1236.20,283.35 L1236.70,285.79 L1237.20,288.39 L1237.50,290.00 L1237.70,291.10 L1238.20,293.96 L1238.70,296.98 L1239.20,300.16 L1239.70,303.49 L1240.20,306.96 L1240.70,310.56 L1241.20,314.29 L1241.70,318.13 L1242.20,322.08 L1242.70,326.14 L1243.20,330.29 L1243.70,334.52 L1244.20,338.84 L1244.70,343.22 L1245.20,347.67 L1245.70,352.18 L1246.20,356.73 L1246.70,361.32 L1247.20,365.95 L1247.70,370.60 L1248.20,375.27 L1248.70,379.94 L1249.20,384.62 L1249.70,389.30 L1250.20,393.96 L1250.70,398.59 L1251.20,403.20 L1251.70,407.78 L1252.20,412.31 L1252.50,415.00 L1252.70,416.80 L1253.20,421.37 L1253.70,426.04 L1254.20,430.81 L1254.70,435.65 L1255.20,440.57 L1255.70,445.54 L1256.20,450.56 L1256.70,455.63 L1257.20,460.72 L1257.70,465.83 L1258.20,470.95 L1258.70,476.06 L1259.20,481.16 L1259.70,486.24 L1260.20,491.29 L1260.70,496.29 L1261.20,501.23 L1261.70,506.11 L1262.20,510.92 L1262.70,515.64 L1263.20,520.26 L1263.70,524.78 L1264.20,529.18 L1264.70,533.45 L1265.20,537.59 L1265.50,540.00 L1265.70,541.57 L1266.20,545.31 L1266.70,548.88 L1267.20,552.35 L1267.70,555.79 L1268.20,559.29 L1268.30,560.00 L1268.70,562.87 L1269.20,566.46 L1269.70,570.07 L1270.20,573.69 L1270.70,577.31 L1271.20,580.94 L1271.70,584.57 L1272.20,588.20 L1272.70,591.83 L1273.20,595.45 L1273.70,599.06 L1274.20,602.66 L1274.70,606.25 L1275.20,609.83 L1275.70,613.38 L1276.20,616.92 L1276.70,620.43 L1277.20,623.92 L1277.50,626.00 L1277.70,627.38 L1278.20,630.81 L1278.70,634.21 L1279.20,637.58 L1279.70,640.93 L1280.20,644.25 L1280.70,647.57 L1281.20,650.87 L1281.70,654.16 L1282.20,657.44 L1282.70,660.72 L1283.20,664.00 L1283.70,667.28 L1284.20,670.57 L1284.70,673.87 L1285.20,677.18 L1285.70,680.51 L1286.20,683.86 L1286.70,687.23 L1287.20,690.63 L1287.40,692.00 L1287.70,694.07 L1288.20,697.59 L1288.70,701.16 L1289.20,704.76 L1289.70,708.36 L1290.20,711.93 L1290.70,715.44 L1291.20,718.85 L1291.70,722.16 L1291.80,722.80 L1292.20,725.33 L1292.70,728.40 L1293.20,731.38 L1293.70,734.29 L1294.00,736.00 L1294.20,737.14 L1294.70,740.01 L1295.20,742.87 L1295.70,745.67 L1296.20,748.36 L1296.70,750.88 L1297.20,753.17 L1297.30,753.60 L1297.70,755.29 L1298.20,757.36 L1298.70,759.34 L1299.20,761.17 L1299.70,762.79 L1300.20,764.14 L1300.50,764.80 L1300.70,765.20 L1301.20,766.21 L1301.70,767.10 L1302.20,767.77 L1302.70,768.09 L1302.80,768.10 L1303.20,767.99 L1303.70,767.58 L1304.20,766.94 L1304.70,766.16 L1305.20,765.31 L1305.50,764.80 L1305.70,764.45 L1306.20,763.47 L1306.70,762.32 L1307.20,761.02 L1307.70,759.58 L1308.20,757.98 L1308.70,756.25 L1309.20,754.38 L1309.40,753.60 L1309.70,752.33 L1310.20,749.88 L1310.70,747.04 L1311.20,743.88 L1311.70,740.44 L1312.20,736.76 L1312.30,736.00 L1312.70,732.75 L1313.20,728.19 L1313.70,723.16 L1314.20,717.76 L1314.70,712.08 L1315.20,706.23 L1315.70,700.28 L1316.20,694.35 L1316.40,692.00 L1316.70,688.45 L1317.20,682.34 L1317.70,676.05 L1318.20,669.59 L1318.70,663.03 L1319.20,656.39 L1319.70,649.71 L1320.20,643.04 L1320.70,636.41 L1321.20,629.87 L1321.50,626.00 L1321.70,623.43 L1322.20,616.94 L1322.70,610.39 L1323.20,603.82 L1323.70,597.26 L1324.20,590.75 L1324.70,584.31 L1325.20,577.98 L1325.70,571.79 L1326.20,565.79 L1326.70,560.00 L1327.20,554.55 L1327.70,549.39 L1328.20,544.25 L1328.60,540.00 L1328.70,538.91 L1329.20,533.38 L1329.70,527.77 L1330.20,522.08 L1330.70,516.30 L1331.20,510.46 L1331.70,504.55 L1332.20,498.57 L1332.70,492.54 L1333.20,486.46 L1333.70,480.34 L1334.20,474.17 L1334.70,467.97 L1335.20,461.74 L1335.70,455.49 L1336.20,449.22 L1336.70,442.93 L1337.20,436.64 L1337.70,430.35 L1338.20,424.06 L1338.70,417.78 L1339.20,411.51 L1339.70,405.26 L1340.20,399.04 L1340.70,392.85 L1341.20,386.69 L1341.70,380.57 L1342.20,374.51 L1342.70,368.49 L1343.20,362.53 L1343.70,356.63 L1344.20,350.81 L1344.70,345.05 L1345.20,339.38 L1345.70,333.79 L1346.20,328.29 L1346.70,322.89 L1347.20,317.58 L1347.70,312.39 L1348.20,307.30 L1348.70,302.33 L1349.20,297.49 L1349.70,292.77 L1350.00,290.00 L1350.20,288.16 L1350.70,283.47 L1351.20,278.74 L1351.70,274.04 L1352.20,269.46 L1352.70,265.09 L1353.20,261.00 L1353.70,257.29 L1354.20,254.04 L1354.70,251.33 L1355.00,250.00 L1355.20,249.19 L1355.70,247.19 L1356.20,245.24 L1356.70,243.39 L1357.20,241.67 L1357.70,240.14 L1358.20,238.81 L1358.70,237.75 L1359.20,236.99 L1359.70,236.57 L1360.00,236.50 L1360.20,236.53 L1360.70,236.89 L1361.20,237.60 L1361.70,238.63 L1362.20,239.92 L1362.70,241.44 L1363.20,243.13 L1363.70,244.95 L1364.20,246.87 L1364.70,248.82 L1365.00,250.00 L1365.20,250.82 L1365.70,253.24 L1366.20,256.11 L1366.70,259.37 L1367.20,262.96 L1367.70,266.80 L1368.20,270.83 L1368.70,274.99 L1369.20,279.21 L1369.70,283.43 L1370.20,287.57 L1370.50,290.00 L1370.70,291.60 L1371.20,295.67 L1371.70,299.80 L1372.20,304.01 L1372.70,308.28 L1373.20,312.62 L1373.70,317.01 L1374.20,321.47 L1374.70,325.99 L1375.20,330.55 L1375.70,335.17 L1376.20,339.84 L1376.70,344.55 L1377.20,349.30 L1377.70,354.09 L1378.20,358.92 L1378.70,363.79 L1379.20,368.68 L1379.70,373.60 L1380.20,378.55 L1380.70,383.52 L1381.20,388.50 L1381.70,393.51 L1382.20,398.53 L1382.70,403.56 L1383.20,408.60 L1383.70,413.64 L1384.20,418.69 L1384.70,423.74 L1385.20,428.78 L1385.70,433.82 L1386.20,438.85 L1386.70,443.87 L1387.20,448.87 L1387.70,453.86 L1388.20,458.83 L1388.70,463.77 L1389.20,468.69 L1389.70,473.58 L1390.20,478.44 L1390.70,483.27 L1391.20,488.06 L1391.70,492.81 L1392.20,497.51 L1392.70,502.18 L1393.20,506.79 L1393.70,511.35 L1394.20,515.86 L1394.70,520.32 L1395.20,524.71 L1395.70,529.05 L1396.20,533.31 L1396.70,537.51 L1397.00,540.00 L1397.20,541.64 L1397.70,545.63 L1398.20,549.50 L1398.70,553.29 L1399.20,557.02 L1399.60,560.00 L1399.70,560.74 L1400.20,564.44 L1400.70,568.11 L1401.20,571.75 L1401.70,575.37 L1402.20,578.97 L1402.70,582.54 L1403.20,586.10 L1403.70,589.64 L1404.20,593.17 L1404.70,596.68 L1405.20,600.19 L1405.70,603.68 L1406.20,607.17 L1406.70,610.66 L1407.20,614.14 L1407.70,617.63 L1408.20,621.11 L1408.70,624.60 L1408.90,626.00 L1409.20,628.10 L1409.70,631.63 L1410.20,635.18 L1410.70,638.75 L1411.20,642.32 L1411.70,645.89 L1412.20,649.46 L1412.70,653.01 L1413.20,656.54 L1413.70,660.05 L1414.20,663.52 L1414.70,666.95 L1415.20,670.32 L1415.70,673.65 L1416.20,676.90 L1416.70,680.09 L1417.20,683.20 L1417.70,686.26 L1418.20,689.29 L1418.70,692.28 L1419.20,695.23 L1419.70,698.13 L1420.20,700.97 L1420.70,703.74 L1421.20,706.44 L1421.70,709.05 L1422.20,711.57 L1422.70,714.00 L1423.20,716.42 L1423.70,718.89 L1424.20,721.36 L1424.70,723.75 L1425.20,726.01 L1425.70,728.08 L1426.20,729.89 L1426.70,731.38 L1427.10,732.30 L1427.20,732.50 L1427.70,733.48 L1428.20,734.40 L1428.70,735.24 L1429.20,735.93 L1429.70,736.42 L1430.20,736.68 L1430.40,736.70 L1430.70,736.65 L1431.20,736.34 L1431.70,735.80 L1432.20,735.08 L1432.70,734.22 L1433.20,733.28 L1433.70,732.30 L1434.20,731.13 L1434.70,729.63 L1435.20,727.84 L1435.70,725.81 L1436.20,723.57 L1436.70,721.18 L1437.20,718.67 L1437.70,716.09 L1438.10,714.00 L1438.20,713.47 L1438.70,710.69 L1439.20,707.67 L1439.70,704.44 L1440.20,701.01 L1440.70,697.40 L1441.20,693.63 L1441.70,689.71 L1442.20,685.67 L1442.50,683.20 L1442.70,681.51 L1443.20,677.09 L1443.70,672.41 L1444.20,667.49 L1444.70,662.37 L1445.20,657.09 L1445.70,651.67 L1446.20,646.15 L1446.70,640.57 L1447.20,634.96 L1447.70,629.35 L1448.00,626.00 L1448.20,623.76 L1448.70,618.06 L1449.20,612.23 L1449.70,606.30 L1450.20,600.28 L1450.70,594.20 L1451.20,588.08 L1451.70,581.94 L1452.20,575.80 L1452.70,569.69 L1453.20,563.61 L1453.50,560.00 L1453.70,557.59 L1454.20,551.52 L1454.70,545.37 L1455.20,539.14 L1455.70,532.86 L1456.20,526.51 L1456.70,520.10 L1457.20,513.65 L1457.70,507.16 L1458.20,500.62 L1458.70,494.06 L1459.20,487.47 L1459.70,480.85 L1460.20,474.23 L1460.70,467.59 L1461.20,460.95 L1461.70,454.32 L1462.20,447.69 L1462.70,441.08 L1463.20,434.48 L1463.70,427.91 L1464.20,421.37 L1464.70,414.87 L1465.20,408.40 L1465.70,401.99 L1466.20,395.63 L1466.70,389.33 L1467.20,383.09 L1467.70,376.93 L1468.20,370.84 L1468.70,364.83 L1469.20,358.91 L1469.70,353.08 L1470.20,347.35 L1470.70,341.73 L1471.20,336.21 L1471.70,330.81 L1472.20,325.54 L1472.70,320.39 L1473.20,315.37 L1473.70,310.49 L1474.20,305.76 L1474.70,301.18 L1475.20,296.75 L1475.70,292.48 L1476.00,290.00 L1476.20,288.37 L1476.70,284.30 L1477.20,280.29 L1477.70,276.36 L1478.20,272.54 L1478.70,268.85 L1479.20,265.34 L1479.70,262.03 L1480.20,258.95 L1480.70,256.13 L1481.20,253.60 L1481.70,251.40 L1481.80,251.00 L1482.20,249.41 L1482.70,247.40 L1483.20,245.45 L1483.70,243.62 L1484.20,241.99 L1484.70,240.65 L1485.20,239.66 L1485.70,239.10 L1486.00,239.00 L1486.20,239.05 L1486.70,239.56 L1487.20,240.56 L1487.70,241.97 L1488.20,243.68 L1488.70,245.61 L1489.20,247.66 L1489.70,249.76 L1490.00,251.00 L1490.20,251.85 L1490.70,254.24 L1491.20,256.99 L1491.70,260.04 L1492.20,263.36 L1492.70,266.89 L1493.20,270.59 L1493.70,274.41 L1494.20,278.31 L1494.70,282.24 L1495.20,286.15 L1495.70,290.00 L1496.20,293.83 L1496.70,297.72 L1497.20,301.66 L1497.70,305.66 L1498.20,309.70 L1498.70,313.79 L1499.20,317.93 L1499.70,322.12 L1500.20,326.35 L1500.70,330.62 L1501.20,334.94 L1501.70,339.29 L1502.20,343.68 L1502.70,348.12 L1503.20,352.58 L1503.70,357.08 L1504.20,361.62 L1504.70,366.18 L1505.20,370.78 L1505.70,375.40 L1506.20,380.05 L1506.70,384.72 L1507.20,389.42 L1507.70,394.15 L1508.20,398.89 L1508.70,403.65 L1509.20,408.43 L1509.70,413.23 L1510.20,418.04 L1510.70,422.87 L1511.20,427.71 L1511.70,432.56 L1512.20,437.42 L1512.70,442.29 L1513.20,447.16 L1513.70,452.04 L1514.20,456.92 L1514.70,461.81 L1515.20,466.69 L1515.70,471.58 L1516.20,476.46 L1516.70,481.34 L1517.20,486.21 L1517.70,491.08 L1518.20,495.94 L1518.70,500.79 L1519.20,505.62 L1519.70,510.45 L1520.20,515.26 L1520.70,520.06 L1521.20,524.84 L1521.70,529.60 L1522.20,534.34 L1522.70,539.06 L1522.80,540.00 L1523.20,543.82 L1523.70,548.71 L1524.20,553.69 L1524.70,558.67 L1525.20,563.61 L1525.70,568.43 L1526.20,573.08 L1526.70,577.49 L1527.00,580.00 L1527.20,581.62 L1527.70,585.56 L1528.20,589.37 L1528.70,593.05 L1529.20,596.62 L1529.70,600.10 L1530.20,603.49 L1530.70,606.81 L1531.20,610.07 L1531.50,612.00 L1531.70,613.28 L1532.20,616.45 L1532.70,619.57 L1533.20,622.65 L1533.70,625.67 L1534.20,628.63 L1534.70,631.53 L1535.20,634.37 L1535.70,637.14 L1536.20,639.84 L1536.70,642.46 L1537.00,644.00 L1537.20,645.01 L1537.70,647.53 L1538.20,650.01 L1538.70,652.46 L1539.20,654.87 L1539.70,657.24 L1540.20,659.56 L1540.70,661.84 L1541.20,664.07 L1541.70,666.25 L1542.20,668.38 L1542.70,670.44 L1543.20,672.45 L1543.70,674.39 L1544.20,676.27 L1544.40,677.00 L1544.70,678.08 L1545.20,679.83 L1545.70,681.53 L1546.20,683.18 L1546.70,684.77 L1547.20,686.32 L1547.70,687.81 L1548.20,689.26 L1548.70,690.65 L1549.20,692.00 L1549.70,693.33 L1550.20,694.67 L1550.70,695.99 L1551.20,697.29 L1551.70,698.56 L1552.20,699.77 L1552.70,700.92 L1553.20,702.00 L1553.70,702.99 L1554.20,703.88 L1554.70,704.66 L1554.80,704.80 L1555.20,705.32 L1555.70,705.89 L1556.20,706.39 L1556.70,706.84 L1557.20,707.27 L1557.70,707.69 L1558.20,708.13 L1558.70,708.60 L1559.20,709.12 L1559.60,709.60 L1559.70,709.73 L1560.20,710.55 L1560.70,711.57 L1561.20,712.69 L1561.70,713.80 L1562.20,714.81 L1562.70,715.63 L1563.20,716.16 L1563.60,716.30 L1563.70,716.30 L1564.20,716.30 L1564.70,716.30 L1565.20,716.30 L1565.70,716.30 L1566.20,716.30 L1566.70,716.30 L1567.20,716.30 L1567.70,716.30 L1568.20,716.30 L1568.70,716.30 L1569.20,716.30 L1569.70,716.30 L1570.20,716.30 L1570.70,716.30 L1571.20,716.30 L1571.70,716.30 L1572.20,716.30 L1572.70,716.30 L1573.20,716.30 L1573.70,716.30 L1574.20,716.30 L1574.70,716.30 L1575.20,716.30 L1575.70,716.30 L1576.20,716.30 L1576.70,716.30 L1577.20,716.30 L1577.70,716.30 L1578.20,716.30 L1578.70,716.30 L1579.20,716.30 L1579.70,716.30 L1580.20,716.30 L1580.40,716.30 L1580.70,716.23 L1581.20,715.86 L1581.70,715.24 L1582.20,714.43 L1582.70,713.53 L1583.20,712.62 L1583.70,711.77 L1584.20,711.06 L1584.70,710.58 L1585.20,710.40 L1585.70,710.40 L1586.20,710.40 L1586.70,710.40 L1587.20,710.40 L1587.70,710.40 L1588.20,710.40 L1588.70,710.40 L1589.20,710.40 L1589.70,710.40 L1590.20,710.40 L1590.70,710.40 L1591.20,710.40 L1591.60,710.40 L1591.70,710.38 L1592.20,709.74 L1592.70,708.43 L1593.20,706.80 L1593.70,705.17 L1594.20,703.86 L1594.70,703.22 L1594.80,703.20 L1595.20,703.20 L1595.70,703.20 L1596.20,703.20 L1596.70,703.20 L1597.20,703.20 L1597.70,703.20 L1598.20,703.20 L1598.70,703.20 L1599.20,703.20 L1599.70,703.20 L1600.20,703.20 L1600.70,703.20 L1601.20,703.20 L1601.70,701.97 L1602.20,699.38 L1602.70,697.07 L1603.00,696.50 L1603.20,696.44 L1603.70,696.33 L1604.20,696.28 L1604.70,696.24 L1605.20,696.19 L1605.70,696.09 L1606.00,696.00 L1606.20,695.67 L1606.70,693.41 L1607.20,690.97 L1607.50,690.40 L1607.70,690.40 L1608.20,690.40 L1608.70,690.40 L1609.20,690.40 L1609.70,690.40 L1610.20,690.40 L1610.70,690.40 L1610.80,690.40 L1611.20,690.16 L1611.70,689.26 L1612.20,687.83 L1612.70,686.05 L1613.20,684.05 L1613.70,681.99 L1614.00,680.80 L1614.20,679.99 L1614.70,677.67 L1615.20,675.03 L1615.70,672.16 L1616.20,669.16 L1616.70,666.14 L1617.20,663.20 L1617.70,660.35 L1618.20,657.50 L1618.70,654.62 L1619.20,651.66 L1619.70,648.58 L1620.20,645.35 L1620.40,644.00 L1620.70,641.90 L1621.20,638.20 L1621.70,634.30 L1622.20,630.24 L1622.70,626.09 L1623.20,621.90 L1623.70,617.72 L1624.20,613.61 L1624.40,612.00 L1624.70,609.61 L1625.20,605.63 L1625.70,601.67 L1626.20,597.71 L1626.70,593.74 L1627.20,589.74 L1627.70,585.71 L1628.20,581.64 L1628.40,580.00 L1628.70,577.54 L1629.20,573.48 L1629.70,569.44 L1630.20,565.40 L1630.70,561.30 L1631.20,557.14 L1631.70,552.86 L1632.20,548.43 L1632.70,543.83 L1633.10,540.00 L1633.20,539.02 L1633.70,534.03 L1634.20,528.88 L1634.70,523.59 L1635.20,518.15 L1635.70,512.59 L1636.20,506.90 L1636.70,501.09 L1637.20,495.17 L1637.70,489.15 L1638.20,483.03 L1638.70,476.83 L1639.20,470.55 L1639.70,464.20 L1640.20,457.78 L1640.70,451.31 L1641.20,444.78 L1641.70,438.22 L1642.20,431.62 L1642.70,424.99 L1643.20,418.35 L1643.70,411.69 L1644.20,405.03 L1644.70,398.38 L1645.20,391.73 L1645.70,385.11 L1646.20,378.51 L1646.70,371.94 L1647.20,365.42 L1647.70,358.94 L1648.20,352.52 L1648.70,346.17 L1649.20,339.88 L1649.70,333.68 L1650.00,330.00 L1650.20,327.54 L1650.70,321.32 L1651.20,314.99 L1651.70,308.61 L1652.20,302.23 L1652.70,295.88 L1653.20,289.61 L1653.70,283.47 L1654.20,277.49 L1654.70,271.72 L1655.20,266.21 L1655.70,261.00 L1655.80,260.00 L1656.20,255.98 L1656.70,250.91 L1657.20,245.92 L1657.70,241.15 L1658.20,236.75 L1658.70,232.85 L1659.20,229.59 L1659.50,228.00 L1659.70,227.03 L1660.20,224.60 L1660.70,222.42 L1661.20,220.79 L1661.70,220.02 L1661.80,220.00 L1662.20,220.46 L1662.70,222.16 L1663.20,224.77 L1663.70,227.96 L1664.00,230.00 L1664.20,231.73 L1664.70,238.39 L1665.20,246.56 L1665.70,253.93 L1666.00,257.00 L1666.20,258.57 L1666.70,262.41 L1667.20,265.63 L1667.70,267.63 L1668.00,268.00 L1668.20,267.85 L1668.70,266.47 L1669.20,264.24 L1669.70,261.93 L1670.20,260.32 L1670.50,260.00 L1670.70,260.12 L1671.20,261.51 L1671.30,262.00 L1671.70,633.86 L1671.90,763.70 L1672.20,763.70 L1672.70,763.70 L1673.20,763.70 L1673.70,763.70 L1674.20,763.70 L1674.70,763.70 L1675.20,763.70 L1675.70,763.70 L1676.20,763.70 L1676.70,763.70 L1677.20,763.70 L1677.70,763.70 L1678.20,763.70 L1678.70,763.70 L1679.20,763.70 L1679.70,763.70 L1680.20,763.70 L1680.70,763.70 L1681.20,763.70 L1681.70,763.70 L1682.20,763.70 L1682.70,763.70 L1683.20,763.70 L1683.70,763.70 L1684.20,763.70 L1684.70,763.70 L1685.20,763.70 L1685.70,763.70 L1686.20,763.70 L1686.70,763.70 L1687.20,763.70 L1687.70,763.70 L1688.20,763.70 L1688.70,763.70 L1689.20,763.70 L1689.70,763.70 L1690.20,763.70 L1690.70,763.70 L1691.20,763.70 L1691.70,763.70 L1692.20,763.70 L1692.70,763.70 L1693.20,763.70 L1693.70,763.70 L1694.20,763.70 L1694.70,763.70 L1695.20,763.70 L1695.70,763.70 L1696.20,763.70 L1696.70,763.70 L1697.20,763.70 L1697.70,763.70 L1698.20,763.70 L1698.70,763.70 L1699.20,763.70 L1699.70,763.70 L1700.20,763.70 L1700.70,763.70 L1701.20,763.70 L1701.70,763.70 L1702.20,763.70 L1702.70,763.70 L1703.20,763.70 L1703.70,763.70 L1704.20,763.70 L1704.70,763.70 L1705.20,763.70 L1705.70,763.70 L1706.20,763.70 L1706.70,763.70 L1707.20,763.70 L1707.70,763.70 L1708.20,763.70 L1708.70,763.70 L1709.20,763.70 L1709.70,763.70 L1710.20,763.70 L1710.70,763.70 L1711.20,763.70 L1711.70,763.70 L1712.20,763.70 L1712.70,763.70 L1713.20,763.70 L1713.70,763.70 L1714.20,763.70 L1714.70,763.70 L1715.20,763.70 L1715.70,763.70 L1716.20,763.70 L1716.70,763.70 L1717.20,763.70 L1717.70,763.70 L1718.20,763.70 L1718.70,763.70 L1719.20,763.70 L1719.70,763.70 L1720.20,763.70 L1720.70,763.70 L1721.20,763.70 L1721.70,763.70 L1722.20,763.70 L1722.70,763.70 L1723.20,763.70 L1723.70,763.70 L1724.20,763.70 L1724.70,763.70 L1725.20,763.70 L1725.30,763.70 L1725.70,767.64 L1726.00,770.20 L1726.20,770.20 L1726.70,770.20 L1727.20,770.20 L1727.70,770.20 L1728.00,770.20 L1728.20,768.91 L1728.70,763.70 L1729.20,763.70 L1729.70,763.70 L1730.00,763.70 L1730.20,764.99 L1730.70,770.20 L1731.20,770.20 L1731.70,770.20 L1732.20,770.20 L1732.50,770.20 L1732.70,768.91 L1733.20,763.70 L1733.70,763.70 L1734.20,763.70 L1734.50,763.70 L1734.70,764.99 L1735.20,770.20 L1735.70,770.20 L1736.20,770.20 L1736.70,770.20 L1737.00,770.20 L1737.20,768.91 L1737.70,763.70 L1738.20,763.70 L1738.70,763.70 L1739.20,763.70 L1739.70,768.91 L1739.90,770.20 L1740.20,770.20 L1740.70,770.20 L1741.20,770.20 L1741.70,770.20 L1742.20,770.20 L1742.70,770.20 L1743.20,770.20 L1743.70,770.20 L1744.20,770.20 L1744.70,770.20 L1745.20,770.20 L1745.70,770.20 L1746.20,770.20 L1746.70,770.20 L1747.20,770.20 L1747.70,770.20 L1748.20,770.20 L1748.70,770.20 L1749.20,770.20 L1749.70,770.20 L1750.20,770.20 L1750.70,770.20 L1751.20,770.20 L1751.70,770.20 L1752.20,770.20 L1752.70,770.20 L1753.20,770.20 L1753.70,770.20 L1754.20,770.20 L1754.70,770.20 L1755.20,770.20 L1755.70,770.20 L1756.20,770.20 L1756.70,770.20 L1757.20,770.20 L1757.70,770.20 L1758.20,770.20 L1758.70,770.20 L1759.20,770.20 L1759.70,770.20 L1760.20,770.20 L1760.70,770.20 L1761.20,770.20 L1761.70,770.20 L1762.20,770.20 L1762.70,770.20 L1763.20,770.20 L1763.70,770.20 L1764.20,770.20 L1764.70,770.20 L1765.20,770.20 L1765.40,770.20 L1765.70,767.84 L1766.10,764.20 L1766.20,764.53 L1766.70,769.87 L1766.80,770.20 L1767.20,770.20 L1767.70,770.20 L1768.20,770.20 L1768.70,770.20 L1769.20,770.20 L1769.70,770.20 L1770.20,770.20 L1770.70,770.20 L1771.20,770.20 L1771.70,770.20 L1772.20,770.20 L1772.70,770.20 L1773.20,770.20 L1773.70,770.20 L1774.20,770.20 L1774.70,770.20 L1775.20,770.20 L1775.70,770.20 L1776.20,770.20 L1776.70,770.20 L1777.20,770.20 L1777.70,770.20 L1778.20,770.20 L1778.70,770.20 L1779.20,770.20 L1779.70,770.20 L1780.20,770.20 L1780.70,770.20 L1781.20,770.20 L1781.70,770.20 L1782.20,770.20 L1782.70,770.20 L1783.20,770.20 L1783.70,770.20 L1784.20,770.20 L1784.70,770.20 L1785.20,770.20 L1785.70,770.20 L1786.20,770.20 L1786.70,770.20 L1787.20,770.20 L1787.40,770.20 L1787.70,771.66 L1788.20,774.80 L1788.70,771.66 L1789.00,770.20 L1789.20,770.20 L1789.70,770.20 L1790.20,770.20 L1790.70,770.20 L1791.20,770.20 L1791.70,770.20 L1792.20,770.20 L1792.70,770.20 L1793.00,770.20" stroke="#0000ff" stroke-width="8.33" stroke-linecap="butt"/>
<path d="M291.30,291.50 L292.30,240.00 L293.80,100.00 L294.10,75.00 L321.20,75.00 L325.00,462.50 L354.50,462.50 L357.50,373.75 L471.00,375.75 L474.50,69.50 L500.00,69.50 L506.70,597.70 L536.10,597.70 L538.25,433.25 L578.75,433.25 L582.50,76.00 L623.60,77.00 L629.40,559.70 L656.30,559.70 L661.75,77.50 L688.00,77.50 L693.40,560.80 L722.00,560.80 L726.75,78.75 L754.25,78.75 L760.00,470.00 L805.50,470.50 L810.00,80.00 L846.25,80.00 L850.50,480.00 L863.75,480.00 L868.90,579.50 L900.10,579.50 L905.00,63.75 L933.00,63.75 L938.00,440.00 L1013.75,439.00 L1017.60,303.50 L1038.00,303.50 L1040.75,65.00 L1052.00,65.00 L1057.00,79.25 L1068.25,79.25 L1073.80,592.00 L1104.50,592.00 L1105.50,442.50 L1123.75,442.50 L1129.25,80.00 L1135.00,80.00 L1140.00,77.00 L1149.25,77.00 L1154.40,573.80 L1173.10,573.80 L1177.50,109.40 L1223.00,108.20 L1227.50,467.00 L1292.50,466.30 L1296.25,107.50 L1350.00,106.50 L1354.90,464.20 L1419.90,463.50 L1424.50,117.00 L1475.00,115.50 L1482.30,590.70 L1520.50,590.70 L1524.40,479.80 L1528.30,366.70 L1605.00,366.00 L1608.75,73.75 L1644.00,73.75 L1650.00,591.40 L1658.50,591.40 L1661.50,589.30 L1665.50,589.30 L1669.80,282.20 L1688.20,282.20 L1690.00,200.00 L1690.40,110.00 L1691.00,74.00 L1691.80,69.50 L1693.00,68.00 L1694.20,69.50 L1695.00,74.00 L1695.80,110.00 L1699.30,520.00 L1700.50,571.00 L1701.00,575.00 L1701.70,575.80 L1702.50,575.00 L1703.00,571.00 L1704.70,520.00 L1708.60,92.00 L1716.40,92.00 L1720.70,397.00 L1792.00,399.00" stroke="#ff0000" stroke-opacity="0.8" stroke-width="4.17"/>
<path d="M287.00,56.28 L288.00,56.77 L289.00,57.28 L290.00,57.80 L291.00,58.33 L292.00,58.88 L293.00,59.45 L294.00,60.02 L295.00,60.62 L296.00,61.22 L297.00,61.84 L298.00,62.48 L299.00,63.13 L300.00,63.79 L301.00,64.47 L302.00,65.16 L303.00,65.87 L304.00,66.59 L305.00,67.33 L306.00,68.08 L307.00,68.85 L308.00,69.63 L309.00,70.43 L310.00,71.24 L311.00,72.06 L312.00,72.90 L313.00,73.76 L314.00,74.62 L315.00,75.51 L316.00,76.41 L317.00,77.32 L318.00,78.25 L319.00,79.20 L320.00,80.15 L321.00,81.13 L322.00,82.12 L323.00,83.12 L324.00,84.14 L325.00,85.18 L326.00,86.23 L327.00,87.29 L328.00,88.37 L329.00,89.47 L330.00,90.58 L331.00,91.70 L332.00,92.85 L333.00,94.00 L334.00,95.18 L335.00,96.36 L336.00,97.57 L337.00,98.79 L338.00,100.02 L339.00,101.27 L340.00,102.54 L341.00,103.82 L342.00,105.12 L343.00,106.43 L344.00,107.76 L345.00,109.11 L346.00,110.47 L347.00,111.85 L348.00,113.24 L349.00,114.65 L350.00,116.08 L351.00,117.52 L352.00,118.98 L353.00,120.46 L354.00,121.95 L355.00,123.46 L356.00,124.98 L357.00,126.53 L358.00,128.08 L359.00,129.66 L360.00,131.25 L361.00,132.86 L362.00,134.48 L363.00,136.13 L364.00,137.79 L365.00,139.46 L366.00,141.16 L367.00,142.87 L368.00,144.60 L369.00,146.34 L370.00,148.11 L371.00,149.89 L372.00,151.68 L373.00,153.50 L374.00,155.33 L375.00,157.19 L376.00,159.05 L377.00,160.94 L378.00,162.85 L379.00,164.77 L380.00,166.71 L381.00,168.67 L382.00,170.65 L383.00,172.65 L384.00,174.66 L385.00,176.70 L386.00,178.75 L387.00,180.82 L388.00,182.91 L389.00,185.02 L390.00,187.15 L391.00,189.30 L392.00,191.46 L393.00,193.65 L394.00,195.86 L395.00,198.08 L396.00,200.33 L397.00,202.59 L398.00,204.88 L399.00,207.18 L400.00,209.51 L401.00,211.85 L402.00,214.22 L403.00,216.61 L404.00,219.01 L405.00,221.44 L406.00,223.89 L407.00,226.36 L408.00,228.85 L409.00,231.37 L410.00,233.90 L411.00,236.45 L412.00,239.03 L413.00,241.63 L414.00,244.25 L415.00,246.90 L416.00,249.56 L417.00,252.25 L418.00,254.96 L419.00,257.69 L420.00,260.45 L421.00,263.23 L422.00,266.03 L423.00,268.86 L424.00,271.71 L425.00,274.58 L426.00,277.48 L427.00,280.40 L428.00,283.35 L429.00,286.32 L430.00,289.32 L431.00,292.34 L432.00,295.38 L433.00,298.45 L434.00,301.55 L435.00,304.67 L436.00,307.82 L437.00,311.00 L438.00,314.20 L439.00,317.43 L440.00,320.68 L441.00,323.96 L442.00,327.27 L443.00,330.61 L444.00,333.98 L445.00,337.37 L446.00,340.79 L447.00,344.24 L448.00,347.72 L449.00,351.23 L450.00,354.77 L451.00,358.34 L452.00,361.94 L453.00,365.57 L454.00,369.24 L455.00,372.93 L456.00,376.65 L457.00,380.41 L458.00,384.20 L459.00,388.02 L460.00,391.88 L461.00,395.77 L462.00,399.69 L463.00,403.64 L464.00,407.64 L465.00,411.66 L466.00,415.73 L467.00,419.82 L468.00,423.96 L469.00,428.13 L470.00,432.34 L471.00,436.59 L472.00,440.88 L473.00,445.20 L474.00,449.57 L475.00,453.97 L476.00,458.42 L477.00,462.91 L478.00,467.44 L479.00,472.01 L480.00,476.62 L481.00,481.28 L482.00,485.98 L483.00,490.73 L484.00,495.53 L485.00,500.37 L486.00,505.26 L487.00,510.19 L488.00,515.18 L489.00,520.21 L490.00,525.30 L491.00,530.44 L492.00,535.63 L493.00,540.87 L494.00,546.16 L495.00,551.52 L496.00,556.92 L497.00,562.39 L498.00,567.91 L499.00,573.49 L500.00,579.13 L501.00,584.83 L502.00,590.59 L503.00,596.41 L504.00,602.30 L505.00,608.25 L506.00,614.27 L507.00,620.35 L508.00,626.49 L509.00,632.71 L510.00,638.99 L511.00,645.34 L512.00,651.75 L513.00,658.23 L514.00,664.78 L515.00,671.39 L516.00,678.06 L517.00,684.79 L518.00,691.58 L519.00,698.41 L520.00,705.29 L521.00,712.19 L522.00,719.12 L523.00,726.05 L524.00,732.96 L525.00,739.83 L526.00,746.62 L527.00,753.29 L528.00,759.78 L528.60,763.57 L528.80,764.80 L529.00,766.03 L529.00,766.03 L529.20,767.24 L529.40,768.44 L529.60,769.62 L529.80,770.79 L530.00,771.94 L530.00,771.94 L530.20,773.08 L530.40,774.19 L530.60,775.29 L530.80,776.36 L531.00,777.42 L531.00,777.42 L531.20,778.45 L531.40,779.46 L531.60,780.45 L531.80,781.40 L532.00,782.34 L532.00,782.34 L532.20,783.24 L532.40,784.11 L532.60,784.96 L532.80,785.77 L533.00,786.55 L533.00,786.55 L533.20,787.30 L533.40,788.01 L533.60,788.68 L533.80,789.32 L534.00,789.92 L534.00,789.92 L534.20,790.48 L534.40,791.00 L534.60,791.48 L534.80,791.91 L535.00,792.30 L535.00,792.30 L535.20,792.65 L535.40,792.95 L535.60,793.21 L535.80,793.42 L536.00,793.59 L536.00,793.59 L536.20,793.71 L536.40,793.78 L536.60,793.80 L536.80,793.78 L537.00,793.71 L537.00,793.71 L537.20,793.59 L537.40,793.42 L537.60,793.21 L537.80,792.95 L538.00,792.65 L538.00,792.65 L538.20,792.30 L538.40,791.91 L538.60,791.48 L538.80,791.00 L539.00,790.48 L539.00,790.48 L539.20,789.92 L539.40,789.32 L539.60,788.68 L539.80,788.01 L540.00,787.30 L540.00,787.30 L540.20,786.55 L540.40,785.77 L540.60,784.96 L540.80,784.11 L541.00,783.24 L541.00,783.24 L541.20,782.34 L541.40,781.40 L541.60,780.45 L541.80,779.46 L542.00,778.45 L542.00,778.45 L542.20,777.42 L542.40,776.36 L542.60,775.29 L542.80,774.19 L543.00,773.08 L543.00,773.08 L543.20,771.94 L543.40,770.79 L543.60,769.62 L543.80,768.44 L544.00,767.24 L544.00,767.24 L544.20,766.03 L544.40,764.80 L545.00,761.05 L546.00,754.61 L547.00,747.97 L548.00,741.20 L549.00,734.34 L550.00,727.43 L551.00,720.51 L552.00,713.58 L553.00,706.67 L554.00,699.78 L555.00,692.94 L556.00,686.15 L557.00,679.40 L558.00,672.72 L559.00,666.10 L560.00,659.54 L561.00,653.04 L562.00,646.61 L563.00,640.25 L564.00,633.96 L565.00,627.73 L566.00,621.57 L567.00,615.48 L568.00,609.45 L569.00,603.48 L570.00,597.58 L571.00,591.75 L572.00,585.97 L573.00,580.26 L574.00,574.61 L575.00,569.02 L576.00,563.49 L577.00,558.01 L578.00,552.59 L579.00,547.23 L580.00,541.92 L581.00,536.67 L582.00,531.47 L583.00,526.32 L584.00,521.23 L585.00,516.18 L586.00,511.19 L587.00,506.24 L588.00,501.34 L589.00,496.49 L590.00,491.69 L591.00,486.93 L592.00,482.22 L593.00,477.55 L594.00,472.93 L595.00,468.35 L596.00,463.81 L597.00,459.31 L598.00,454.86 L599.00,450.45 L600.00,446.07 L601.00,441.74 L602.00,437.44 L603.00,433.19 L604.00,428.97 L605.00,424.79 L606.00,420.65 L607.00,416.54 L608.00,412.47 L609.00,408.44 L610.00,404.44 L611.00,400.48 L612.00,396.55 L613.00,392.65 L614.00,388.79 L615.00,384.96 L616.00,381.17 L617.00,377.40 L618.00,373.67 L619.00,369.97 L620.00,366.30 L621.00,362.67 L622.00,359.06 L623.00,355.49 L624.00,351.94 L625.00,348.42 L626.00,344.94 L627.00,341.48 L628.00,338.05 L629.00,334.65 L630.00,331.28 L631.00,327.94 L632.00,324.62 L633.00,321.33 L634.00,318.07 L635.00,314.84 L636.00,311.63 L637.00,308.45 L638.00,305.30 L639.00,302.17 L640.00,299.07 L641.00,295.99 L642.00,292.94 L643.00,289.92 L644.00,286.92 L645.00,283.94 L646.00,280.99 L647.00,278.06 L648.00,275.16 L649.00,272.28 L650.00,269.43 L651.00,266.60 L652.00,263.79 L653.00,261.00 L654.00,258.24 L655.00,255.51 L656.00,252.79 L657.00,250.10 L658.00,247.43 L659.00,244.78 L660.00,242.15 L661.00,239.55 L662.00,236.97 L663.00,234.41 L664.00,231.87 L665.00,229.35 L666.00,226.86 L667.00,224.38 L668.00,221.93 L669.00,219.50 L670.00,217.09 L671.00,214.70 L672.00,212.33 L673.00,209.98 L674.00,207.65 L675.00,205.34 L676.00,203.05 L677.00,200.78 L678.00,198.53 L679.00,196.30 L680.00,194.09 L681.00,191.90 L682.00,189.73 L683.00,187.58 L684.00,185.44 L685.00,183.33 L686.00,181.24 L687.00,179.16 L688.00,177.11 L689.00,175.07 L690.00,173.05 L691.00,171.05 L692.00,169.07 L693.00,167.10 L694.00,165.16 L695.00,163.23 L696.00,161.32 L697.00,159.43 L698.00,157.56 L699.00,155.70 L700.00,153.87 L701.00,152.05 L702.00,150.24 L703.00,148.46 L704.00,146.69 L705.00,144.94 L706.00,143.21 L707.00,141.50 L708.00,139.80 L709.00,138.12 L710.00,136.46 L711.00,134.81 L712.00,133.18 L713.00,131.57 L714.00,129.98 L715.00,128.40 L716.00,126.84 L717.00,125.29 L718.00,123.76 L719.00,122.25 L720.00,120.76 L721.00,119.28 L722.00,117.81 L723.00,116.37 L724.00,114.94 L725.00,113.53 L726.00,112.13 L727.00,110.75 L728.00,109.38 L729.00,108.03 L730.00,106.70 L731.00,105.38 L732.00,104.08 L733.00,102.80 L734.00,101.53 L735.00,100.27 L736.00,99.03 L737.00,97.81 L738.00,96.60 L739.00,95.41 L740.00,94.24 L741.00,93.08 L742.00,91.93 L743.00,90.80 L744.00,89.69 L745.00,88.59 L746.00,87.51 L747.00,86.44 L748.00,85.39 L749.00,84.35 L750.00,83.33 L751.00,82.32 L752.00,81.33 L753.00,80.35 L754.00,79.39 L755.00,78.44 L756.00,77.51 L757.00,76.59 L758.00,75.69 L759.00,74.80 L760.00,73.93 L761.00,73.07 L762.00,72.23 L763.00,71.40 L764.00,70.59 L765.00,69.79 L766.00,69.00 L767.00,68.23 L768.00,67.48 L769.00,66.74 L770.00,66.01 L771.00,65.30 L772.00,64.61 L773.00,63.93 L774.00,63.26 L775.00,62.61 L776.00,61.97 L777.00,61.34 L778.00,60.74 L779.00,60.14 L780.00,59.56 L781.00,58.99 L782.00,58.44 L783.00,57.91 L784.00,57.38 L785.00,56.87 L786.00,56.38 L787.00,55.90 L788.00,55.43 L789.00,54.98 L790.00,54.54 L791.00,54.12 L792.00,53.71 L793.00,53.32 L794.00,52.94 L795.00,52.57 L796.00,52.22 L797.00,51.88 L798.00,51.56 L799.00,51.25 L800.00,50.95 L801.00,50.67 L802.00,50.40 L803.00,50.15 L804.00,49.91 L805.00,49.69 L806.00,49.48 L807.00,49.28 L808.00,49.10 L809.00,48.93 L810.00,48.77 L811.00,48.63 L812.00,48.51 L813.00,48.39 L814.00,48.30 L815.00,48.21 L816.00,48.14 L817.00,48.09 L818.00,48.04 L819.00,48.02 L820.00,48.00 L821.00,48.00 L822.00,48.02 L823.00,48.04 L824.00,48.09 L825.00,48.14 L826.00,48.21 L827.00,48.30 L828.00,48.39 L829.00,48.51 L830.00,48.63 L831.00,48.77 L832.00,48.93 L833.00,49.10 L834.00,49.28 L835.00,49.48 L836.00,49.69 L837.00,49.91 L838.00,50.15 L839.00,50.40 L840.00,50.67 L841.00,50.95 L842.00,51.25 L843.00,51.56 L844.00,51.88 L845.00,52.22 L846.00,52.57 L847.00,52.94 L848.00,53.32 L849.00,53.71 L850.00,54.12 L851.00,54.54 L852.00,54.98 L853.00,55.43 L854.00,55.90 L855.00,56.38 L856.00,56.87 L857.00,57.38 L858.00,57.91 L859.00,58.44 L860.00,58.99 L861.00,59.56 L862.00,60.14 L863.00,60.74 L864.00,61.34 L865.00,61.97 L866.00,62.61 L867.00,63.26 L868.00,63.93 L869.00,64.61 L870.00,65.30 L871.00,66.01 L872.00,66.74 L873.00,67.48 L874.00,68.23 L875.00,69.00 L876.00,69.79 L877.00,70.59 L878.00,71.40 L879.00,72.23 L880.00,73.07 L881.00,73.93 L882.00,74.80 L883.00,75.69 L884.00,76.59 L885.00,77.51 L886.00,78.44 L887.00,79.39 L888.00,80.35 L889.00,81.33 L890.00,82.32 L891.00,83.33 L892.00,84.35 L893.00,85.39 L894.00,86.44 L895.00,87.51 L896.00,88.59 L897.00,89.69 L898.00,90.80 L899.00,91.93 L900.00,93.08 L901.00,94.24 L902.00,95.41 L903.00,96.60 L904.00,97.81 L905.00,99.03 L906.00,100.27 L907.00,101.53 L908.00,102.80 L909.00,104.08 L910.00,105.38 L911.00,106.70 L912.00,108.03 L913.00,109.38 L914.00,110.75 L915.00,112.13 L916.00,113.53 L917.00,114.94 L918.00,116.37 L919.00,117.81 L920.00,119.28 L921.00,120.76 L922.00,122.25 L923.00,123.76 L924.00,125.29 L925.00,126.84 L926.00,128.40 L927.00,129.98 L928.00,131.57 L929.00,133.18 L930.00,134.81 L931.00,136.46 L932.00,138.12 L933.00,139.80 L934.00,141.50 L935.00,143.21 L936.00,144.94 L937.00,146.69 L938.00,148.46 L939.00,150.24 L940.00,152.05 L941.00,153.87 L942.00,155.70 L943.00,157.56 L944.00,159.43 L945.00,161.32 L946.00,163.23 L947.00,165.16 L948.00,167.10 L949.00,169.07 L950.00,171.05 L951.00,173.05 L952.00,175.07 L953.00,177.11 L954.00,179.16 L955.00,181.24 L956.00,183.33 L957.00,185.44 L958.00,187.58 L959.00,189.73 L960.00,191.90 L961.00,194.09 L962.00,196.30 L963.00,198.53 L964.00,200.78 L965.00,203.05 L966.00,205.34 L967.00,207.65 L968.00,209.98 L969.00,212.33 L970.00,214.70 L971.00,217.09 L972.00,219.50 L973.00,221.93 L974.00,224.38 L975.00,226.86 L976.00,229.35 L977.00,231.87 L978.00,234.41 L979.00,236.97 L980.00,239.55 L981.00,242.15 L982.00,244.78 L983.00,247.43 L984.00,250.10 L985.00,252.79 L986.00,255.51 L987.00,258.24 L988.00,261.00 L989.00,263.79 L990.00,266.60 L991.00,269.43 L992.00,272.28 L993.00,275.16 L994.00,278.06 L995.00,280.99 L996.00,283.94 L997.00,286.92 L998.00,289.92 L999.00,292.94 L1000.00,295.99 L1001.00,299.07 L1002.00,302.17 L1003.00,305.30 L1004.00,308.45 L1005.00,311.63 L1006.00,314.84 L1007.00,318.07 L1008.00,321.33 L1009.00,324.62 L1010.00,327.94 L1011.00,331.28 L1012.00,334.65 L1013.00,338.05 L1014.00,341.48 L1015.00,344.94 L1016.00,348.42 L1017.00,351.94 L1018.00,355.49 L1019.00,359.06 L1020.00,362.67 L1021.00,366.30 L1022.00,369.97 L1023.00,373.67 L1024.00,377.40 L1025.00,381.17 L1026.00,384.96 L1027.00,388.79 L1028.00,392.65 L1029.00,396.55 L1030.00,400.48 L1031.00,404.44 L1032.00,408.44 L1033.00,412.47 L1034.00,416.54 L1035.00,420.65 L1036.00,424.79 L1037.00,428.97 L1038.00,433.19 L1039.00,437.44 L1040.00,441.74 L1041.00,446.07 L1042.00,450.45 L1043.00,454.86 L1044.00,459.31 L1045.00,463.81 L1046.00,468.35 L1047.00,472.93 L1048.00,477.55 L1049.00,482.22 L1050.00,486.93 L1051.00,491.69 L1052.00,496.49 L1053.00,501.34 L1054.00,506.24 L1055.00,511.19 L1056.00,516.18 L1057.00,521.23 L1058.00,526.32 L1059.00,531.47 L1060.00,536.67 L1061.00,541.92 L1062.00,547.23 L1063.00,552.59 L1064.00,558.01 L1065.00,563.49 L1066.00,569.02 L1067.00,574.61 L1068.00,580.26 L1069.00,585.97 L1070.00,591.75 L1071.00,597.58 L1072.00,603.48 L1073.00,609.45 L1074.00,615.48 L1075.00,621.57 L1076.00,627.73 L1077.00,633.96 L1078.00,640.25 L1079.00,646.61 L1080.00,653.04 L1081.00,659.54 L1082.00,666.10 L1083.00,672.72 L1084.00,679.40 L1085.00,686.15 L1086.00,692.94 L1087.00,699.78 L1088.00,706.67 L1089.00,713.58 L1090.00,720.51 L1091.00,727.43 L1092.00,734.34 L1093.00,741.20 L1094.00,747.97 L1095.00,754.61 L1096.00,761.05 L1096.40,763.57 L1096.60,764.80 L1096.80,766.03 L1097.00,767.24 L1097.00,767.24 L1097.20,768.44 L1097.40,769.62 L1097.60,770.79 L1097.80,771.94 L1098.00,773.08 L1098.00,773.08 L1098.20,774.19 L1098.40,775.29 L1098.60,776.36 L1098.80,777.42 L1099.00,778.45 L1099.00,778.45 L1099.20,779.46 L1099.40,780.45 L1099.60,781.40 L1099.80,782.34 L1100.00,783.24 L1100.00,783.24 L1100.20,784.11 L1100.40,784.96 L1100.60,785.77 L1100.80,786.55 L1101.00,787.30 L1101.00,787.30 L1101.20,788.01 L1101.40,788.68 L1101.60,789.32 L1101.80,789.92 L1102.00,790.48 L1102.00,790.48 L1102.20,791.00 L1102.40,791.48 L1102.60,791.91 L1102.80,792.30 L1103.00,792.65 L1103.00,792.65 L1103.20,792.95 L1103.40,793.21 L1103.60,793.42 L1103.80,793.59 L1104.00,793.71 L1104.00,793.71 L1104.20,793.78 L1104.40,793.80 L1104.60,793.78 L1104.80,793.71 L1105.00,793.59 L1105.00,793.59 L1105.20,793.42 L1105.40,793.21 L1105.60,792.95 L1105.80,792.65 L1106.00,792.30 L1106.00,792.30 L1106.20,791.91 L1106.40,791.48 L1106.60,791.00 L1106.80,790.48 L1107.00,789.92 L1107.00,789.92 L1107.20,789.32 L1107.40,788.68 L1107.60,788.01 L1107.80,787.30 L1108.00,786.55 L1108.00,786.55 L1108.20,785.77 L1108.40,784.96 L1108.60,784.11 L1108.80,783.24 L1109.00,782.34 L1109.00,782.34 L1109.20,781.40 L1109.40,780.45 L1109.60,779.46 L1109.80,778.45 L1110.00,777.42 L1110.00,777.42 L1110.20,776.36 L1110.40,775.29 L1110.60,774.19 L1110.80,773.08 L1111.00,771.94 L1111.00,771.94 L1111.20,770.79 L1111.40,769.62 L1111.60,768.44 L1111.80,767.24 L1112.00,766.03 L1112.00,766.03 L1112.20,764.80 L1113.00,759.78 L1114.00,753.29 L1115.00,746.62 L1116.00,739.83 L1117.00,732.96 L1118.00,726.05 L1119.00,719.12 L1120.00,712.19 L1121.00,705.29 L1122.00,698.41 L1123.00,691.58 L1124.00,684.79 L1125.00,678.06 L1126.00,671.39 L1127.00,664.78 L1128.00,658.23 L1129.00,651.75 L1130.00,645.34 L1131.00,638.99 L1132.00,632.71 L1133.00,626.49 L1134.00,620.35 L1135.00,614.27 L1136.00,608.25 L1137.00,602.30 L1138.00,596.41 L1139.00,590.59 L1140.00,584.83 L1141.00,579.13 L1142.00,573.49 L1143.00,567.91 L1144.00,562.39 L1145.00,556.92 L1146.00,551.52 L1147.00,546.16 L1148.00,540.87 L1149.00,535.63 L1150.00,530.44 L1151.00,525.30 L1152.00,520.21 L1153.00,515.18 L1154.00,510.19 L1155.00,505.26 L1156.00,500.37 L1157.00,495.53 L1158.00,490.73 L1159.00,485.98 L1160.00,481.28 L1161.00,476.62 L1162.00,472.01 L1163.00,467.44 L1164.00,462.91 L1165.00,458.42 L1166.00,453.97 L1167.00,449.57 L1168.00,445.20 L1169.00,440.88 L1170.00,436.59 L1171.00,432.34 L1172.00,428.13 L1173.00,423.96 L1174.00,419.82 L1175.00,415.73 L1176.00,411.66 L1177.00,407.64 L1178.00,403.64 L1179.00,399.69 L1180.00,395.77 L1181.00,391.88 L1182.00,388.02 L1183.00,384.20 L1184.00,380.41 L1185.00,376.65 L1186.00,372.93 L1187.00,369.24 L1188.00,365.57 L1189.00,361.94 L1190.00,358.34 L1191.00,354.77 L1192.00,351.23 L1193.00,347.72 L1194.00,344.24 L1195.00,340.79 L1196.00,337.37 L1197.00,333.98 L1198.00,330.61 L1199.00,327.27 L1200.00,323.96 L1201.00,320.68 L1202.00,317.43 L1203.00,314.20 L1204.00,311.00 L1205.00,307.82 L1206.00,304.67 L1207.00,301.55 L1208.00,298.45 L1209.00,295.38 L1210.00,292.34 L1211.00,289.32 L1212.00,286.32 L1213.00,283.35 L1214.00,280.40 L1215.00,277.48 L1216.00,274.58 L1217.00,271.71 L1218.00,268.86 L1219.00,266.03 L1220.00,263.23 L1221.00,260.45 L1222.00,257.69 L1223.00,254.96 L1224.00,252.25 L1225.00,249.56 L1226.00,246.90 L1227.00,244.25 L1228.00,241.63 L1229.00,239.03 L1230.00,236.45 L1231.00,233.90 L1232.00,231.37 L1233.00,228.85 L1234.00,226.36 L1235.00,223.89 L1236.00,221.44 L1237.00,219.01 L1238.00,216.61 L1239.00,214.22 L1240.00,211.85 L1241.00,209.51 L1242.00,207.18 L1243.00,204.88 L1244.00,202.59 L1245.00,200.33 L1246.00,198.08 L1247.00,195.86 L1248.00,193.65 L1249.00,191.46 L1250.00,189.30 L1251.00,187.15 L1252.00,185.02 L1253.00,182.91 L1254.00,180.82 L1255.00,178.75 L1256.00,176.70 L1257.00,174.66 L1258.00,172.65 L1259.00,170.65 L1260.00,168.67 L1261.00,166.71 L1262.00,164.77 L1263.00,162.85 L1264.00,160.94 L1265.00,159.05 L1266.00,157.19 L1267.00,155.33 L1268.00,153.50 L1269.00,151.68 L1270.00,149.89 L1271.00,148.11 L1272.00,146.34 L1273.00,144.60 L1274.00,142.87 L1275.00,141.16 L1276.00,139.46 L1277.00,137.79 L1278.00,136.13 L1279.00,134.48 L1280.00,132.86 L1281.00,131.25 L1282.00,129.66 L1283.00,128.08 L1284.00,126.53 L1285.00,124.98 L1286.00,123.46 L1287.00,121.95 L1288.00,120.46 L1289.00,118.98 L1290.00,117.52 L1291.00,116.08 L1292.00,114.65 L1293.00,113.24 L1294.00,111.85 L1295.00,110.47 L1296.00,109.11 L1297.00,107.76 L1298.00,106.43 L1299.00,105.12 L1300.00,103.82 L1301.00,102.54 L1302.00,101.27 L1303.00,100.02 L1304.00,98.79 L1305.00,97.57 L1306.00,96.36 L1307.00,95.18 L1308.00,94.00 L1309.00,92.85 L1310.00,91.70 L1311.00,90.58 L1312.00,89.47 L1313.00,88.37 L1314.00,87.29 L1315.00,86.23 L1316.00,85.18 L1317.00,84.14 L1318.00,83.12 L1319.00,82.12 L1320.00,81.13 L1321.00,80.15 L1322.00,79.20 L1323.00,78.25 L1324.00,77.32 L1325.00,76.41 L1326.00,75.51 L1327.00,74.62 L1328.00,73.76 L1329.00,72.90 L1330.00,72.06 L1331.00,71.24 L1332.00,70.43 L1333.00,69.63 L1334.00,68.85 L1335.00,68.08 L1336.00,67.33 L1337.00,66.59 L1338.00,65.87 L1339.00,65.16 L1340.00,64.47 L1341.00,63.79 L1342.00,63.13 L1343.00,62.48 L1344.00,61.84 L1345.00,61.22 L1346.00,60.62 L1347.00,60.02 L1348.00,59.45 L1349.00,58.88 L1350.00,58.33 L1351.00,57.80 L1352.00,57.28 L1353.00,56.77 L1354.00,56.28 L1355.00,55.81 L1356.00,55.34 L1357.00,54.89 L1358.00,54.46 L1359.00,54.04 L1360.00,53.63 L1361.00,53.24 L1362.00,52.86 L1363.00,52.50 L1364.00,52.15 L1365.00,51.82 L1366.00,51.49 L1367.00,51.19 L1368.00,50.90 L1369.00,50.62 L1370.00,50.35 L1371.00,50.10 L1372.00,49.87 L1373.00,49.64 L1374.00,49.44 L1375.00,49.24 L1376.00,49.06 L1377.00,48.90 L1378.00,48.74 L1379.00,48.61 L1380.00,48.48 L1381.00,48.37 L1382.00,48.28 L1383.00,48.20 L1384.00,48.13 L1385.00,48.08 L1386.00,48.04 L1387.00,48.01 L1388.00,48.00 L1389.00,48.00 L1390.00,48.02 L1391.00,48.05 L1392.00,48.10 L1393.00,48.16 L1394.00,48.23 L1395.00,48.32 L1396.00,48.42 L1397.00,48.53 L1398.00,48.66 L1399.00,48.80 L1400.00,48.96 L1401.00,49.13 L1402.00,49.32 L1403.00,49.52 L1404.00,49.73 L1405.00,49.96 L1406.00,50.20 L1407.00,50.46 L1408.00,50.73 L1409.00,51.01 L1410.00,51.31 L1411.00,51.62 L1412.00,51.95 L1413.00,52.29 L1414.00,52.64 L1415.00,53.01 L1416.00,53.40 L1417.00,53.79 L1418.00,54.21 L1419.00,54.63 L1420.00,55.07 L1421.00,55.53 L1422.00,55.99 L1423.00,56.48 L1424.00,56.97 L1425.00,57.49 L1426.00,58.01 L1427.00,58.55 L1428.00,59.11 L1429.00,59.68 L1430.00,60.26 L1431.00,60.86 L1432.00,61.47 L1433.00,62.09 L1434.00,62.74 L1435.00,63.39 L1436.00,64.06 L1437.00,64.75 L1438.00,65.44 L1439.00,66.16 L1440.00,66.89 L1441.00,67.63 L1442.00,68.39 L1443.00,69.16 L1444.00,69.95 L1445.00,70.75 L1446.00,71.56 L1447.00,72.39 L1448.00,73.24 L1449.00,74.10 L1450.00,74.98 L1451.00,75.87 L1452.00,76.77 L1453.00,77.69 L1454.00,78.63 L1455.00,79.58 L1456.00,80.54 L1457.00,81.52 L1458.00,82.52 L1459.00,83.53 L1460.00,84.55 L1461.00,85.59 L1462.00,86.65 L1463.00,87.72 L1464.00,88.81 L1465.00,89.91 L1466.00,91.03 L1467.00,92.16 L1468.00,93.31 L1469.00,94.47 L1470.00,95.65 L1471.00,96.84 L1472.00,98.05 L1473.00,99.28 L1474.00,100.52 L1475.00,101.78 L1476.00,103.05 L1477.00,104.34 L1478.00,105.64 L1479.00,106.96 L1480.00,108.30 L1481.00,109.65 L1482.00,111.02 L1483.00,112.41 L1484.00,113.81 L1485.00,115.22 L1486.00,116.66 L1487.00,118.11 L1488.00,119.57 L1489.00,121.05 L1490.00,122.55 L1491.00,124.07 L1492.00,125.60 L1493.00,127.15 L1494.00,128.71 L1495.00,130.29 L1496.00,131.89 L1497.00,133.51 L1498.00,135.14 L1499.00,136.79 L1500.00,138.46 L1501.00,140.14 L1502.00,141.84 L1503.00,143.56 L1504.00,145.29 L1505.00,147.05 L1506.00,148.82 L1507.00,150.60 L1508.00,152.41 L1509.00,154.23 L1510.00,156.07 L1511.00,157.93 L1512.00,159.81 L1513.00,161.70 L1514.00,163.61 L1515.00,165.55 L1516.00,167.49 L1517.00,169.46 L1518.00,171.45 L1519.00,173.45 L1520.00,175.47 L1521.00,177.52 L1522.00,179.58 L1523.00,181.65 L1524.00,183.75 L1525.00,185.87 L1526.00,188.01 L1527.00,190.16 L1528.00,192.34 L1529.00,194.53 L1530.00,196.74 L1531.00,198.98 L1532.00,201.23 L1533.00,203.50 L1534.00,205.80 L1535.00,208.11 L1536.00,210.44 L1537.00,212.80 L1538.00,215.17 L1539.00,217.57 L1540.00,219.98 L1541.00,222.42 L1542.00,224.88 L1543.00,227.36 L1544.00,229.86 L1545.00,232.38 L1546.00,234.92 L1547.00,237.48 L1548.00,240.07 L1549.00,242.68 L1550.00,245.31 L1551.00,247.96 L1552.00,250.63 L1553.00,253.33 L1554.00,256.05 L1555.00,258.79 L1556.00,261.56 L1557.00,264.35 L1558.00,267.16 L1559.00,270.00 L1560.00,272.86 L1561.00,275.74 L1562.00,278.65 L1563.00,281.58 L1564.00,284.53 L1565.00,287.51 L1566.00,290.52 L1567.00,293.55 L1568.00,296.61 L1569.00,299.69 L1570.00,302.80 L1571.00,305.93 L1572.00,309.09 L1573.00,312.27 L1574.00,315.49 L1575.00,318.72 L1576.00,321.99 L1577.00,325.28 L1578.00,328.60 L1579.00,331.95 L1580.00,335.33 L1581.00,338.74 L1582.00,342.17 L1583.00,345.63 L1584.00,349.13 L1585.00,352.65 L1586.00,356.20 L1587.00,359.78 L1588.00,363.39 L1589.00,367.04 L1590.00,370.71 L1591.00,374.42 L1592.00,378.15 L1593.00,381.92 L1594.00,385.72 L1595.00,389.56 L1596.00,393.43 L1597.00,397.33 L1598.00,401.27 L1599.00,405.24 L1600.00,409.24 L1601.00,413.28 L1602.00,417.36 L1603.00,421.47 L1604.00,425.62 L1605.00,429.81 L1606.00,434.04 L1607.00,438.30 L1608.00,442.60 L1609.00,446.94 L1610.00,451.32 L1611.00,455.75 L1612.00,460.21 L1613.00,464.71 L1614.00,469.26 L1615.00,473.85 L1616.00,478.48 L1617.00,483.16 L1618.00,487.88 L1619.00,492.65 L1620.00,497.46 L1621.00,502.32 L1622.00,507.23 L1623.00,512.18 L1624.00,517.19 L1625.00,522.24 L1626.00,527.35 L1627.00,532.51 L1628.00,537.72 L1629.00,542.98 L1630.00,548.30 L1631.00,553.67 L1632.00,559.10 L1633.00,564.59 L1634.00,570.13 L1635.00,575.74 L1636.00,581.40 L1637.00,587.12 L1638.00,592.91 L1639.00,598.76 L1640.00,604.67 L1641.00,610.65 L1642.00,616.69 L1643.00,622.80 L1644.00,628.97 L1645.00,635.21 L1646.00,641.52 L1647.00,647.90 L1648.00,654.34 L1649.00,660.84 L1650.00,667.42 L1651.00,674.05 L1652.00,680.75 L1653.00,687.50 L1654.00,694.31 L1655.00,701.16 L1656.00,708.05 L1657.00,714.96 L1658.00,721.89 L1659.00,728.82 L1660.00,735.72 L1661.00,742.56 L1662.00,749.31 L1663.00,755.91 L1664.00,762.32 L1664.20,763.57 L1664.40,764.80 L1664.60,766.03 L1664.80,767.24 L1665.00,768.44 L1665.20,769.62 L1665.40,770.79 L1665.60,771.94 L1665.80,773.08 L1666.00,774.19 L1666.00,774.19 L1666.20,775.29 L1666.40,776.36 L1666.60,777.42 L1666.80,778.45 L1667.00,779.46 L1667.00,779.46 L1667.20,780.45 L1667.40,781.40 L1667.60,782.34 L1667.80,783.24 L1668.00,784.11 L1668.00,784.11 L1668.20,784.96 L1668.40,785.77 L1668.60,786.55 L1668.80,787.30 L1669.00,788.01 L1669.00,788.01 L1669.20,788.68 L1669.40,789.32 L1669.60,789.92 L1669.80,790.48 L1670.00,791.00 L1670.00,791.00 L1670.20,791.48 L1670.40,791.91 L1670.60,792.30 L1670.80,792.65 L1671.00,792.95 L1671.00,792.95 L1671.20,793.21 L1671.40,793.42 L1671.60,793.59 L1671.80,793.71 L1672.00,793.78 L1672.00,793.78 L1672.20,793.80 L1672.40,793.78 L1672.60,793.71 L1672.80,793.59 L1673.00,793.42 L1673.00,793.42 L1673.20,793.21 L1673.40,792.95 L1673.60,792.65 L1673.80,792.30 L1674.00,791.91 L1674.00,791.91 L1674.20,791.48 L1674.40,791.00 L1674.60,790.48 L1674.80,789.92 L1675.00,789.32 L1675.00,789.32 L1675.20,788.68 L1675.40,788.01 L1675.60,787.30 L1675.80,786.55 L1676.00,785.77 L1676.00,785.77 L1676.20,784.96 L1676.40,784.11 L1676.60,783.24 L1676.80,782.34 L1677.00,781.40 L1677.00,781.40 L1677.20,780.45 L1677.40,779.46 L1677.60,778.45 L1677.80,777.42 L1678.00,776.36 L1678.00,776.36 L1678.20,775.29 L1678.40,774.19 L1678.60,773.08 L1678.80,771.94 L1679.00,770.79 L1679.00,770.79 L1679.20,769.62 L1679.40,768.44 L1679.60,767.24 L1679.80,766.03 L1680.00,764.80 L1680.00,764.80 L1681.00,758.50 L1682.00,751.97 L1683.00,745.27 L1684.00,738.46 L1685.00,731.58 L1686.00,724.66 L1687.00,717.73 L1688.00,710.81 L1689.00,703.91 L1690.00,697.04 L1691.00,690.22 L1692.00,683.44 L1693.00,676.72 L1694.00,670.06 L1695.00,663.47 L1696.00,656.93 L1697.00,650.46 L1698.00,644.06 L1699.00,637.73 L1700.00,631.46 L1701.00,625.26 L1702.00,619.13 L1703.00,613.06 L1704.00,607.05 L1705.00,601.12 L1706.00,595.24 L1707.00,589.43 L1708.00,583.68 L1709.00,577.99 L1710.00,572.37 L1711.00,566.80 L1712.00,561.29 L1713.00,555.84 L1714.00,550.44 L1715.00,545.10 L1716.00,539.82 L1717.00,534.58 L1718.00,529.41 L1719.00,524.28 L1720.00,519.20 L1721.00,514.18 L1722.00,509.20 L1723.00,504.28 L1724.00,499.40 L1725.00,494.56 L1726.00,489.78 L1727.00,485.04 L1728.00,480.35 L1729.00,475.70 L1730.00,471.09 L1731.00,466.53 L1732.00,462.01 L1733.00,457.53 L1734.00,453.09 L1735.00,448.69 L1736.00,444.33 L1737.00,440.02 L1738.00,435.74 L1739.00,431.50 L1740.00,427.30 L1741.00,423.13 L1742.00,419.00 L1743.00,414.91 L1744.00,410.86 L1745.00,406.84 L1746.00,402.85 L1747.00,398.90 L1748.00,394.99 L1749.00,391.10 L1750.00,387.25 L1751.00,383.44 L1752.00,379.66 L1753.00,375.91 L1754.00,372.19 L1755.00,368.50 L1756.00,364.85 L1757.00,361.22 L1758.00,357.63 L1759.00,354.06 L1760.00,350.53 L1761.00,347.03 L1762.00,343.55 L1763.00,340.11 L1764.00,336.69 L1765.00,333.30 L1766.00,329.94 L1767.00,326.61 L1768.00,323.30 L1769.00,320.03 L1770.00,316.78 L1771.00,313.55 L1772.00,310.36 L1773.00,307.19 L1774.00,304.05 L1775.00,300.93 L1776.00,297.84 L1777.00,294.77 L1778.00,291.73 L1779.00,288.71 L1780.00,285.72 L1781.00,282.76 L1782.00,279.82 L1783.00,276.90 L1784.00,274.01 L1785.00,271.14 L1786.00,268.29 L1787.00,265.47 L1788.00,262.67 L1789.00,259.90 L1790.00,257.15 L1791.00,254.42 L1792.00,251.71 L1793.00,249.03 L2232.00,763.57 L2232.20,764.80 L2232.40,766.03 L2232.60,767.24 L2232.80,768.44 L2233.00,769.62 L2233.20,770.79 L2233.40,771.94 L2233.60,773.08 L2233.80,774.19 L2234.00,775.29 L2234.20,776.36 L2234.40,777.42 L2234.60,778.45 L2234.80,779.46 L2235.00,780.45 L2235.20,781.40 L2235.40,782.34 L2235.60,783.24 L2235.80,784.11 L2236.00,784.96 L2236.20,785.77 L2236.40,786.55 L2236.60,787.30 L2236.80,788.01 L2237.00,788.68 L2237.20,789.32 L2237.40,789.92 L2237.60,790.48 L2237.80,791.00 L2238.00,791.48 L2238.20,791.91 L2238.40,792.30 L2238.60,792.65 L2238.80,792.95 L2239.00,793.21 L2239.20,793.42 L2239.40,793.59 L2239.60,793.71 L2239.80,793.78 L2240.00,793.80 L2240.20,793.78 L2240.40,793.71 L2240.60,793.59 L2240.80,793.42 L2241.00,793.21 L2241.20,792.95 L2241.40,792.65 L2241.60,792.30 L2241.80,791.91 L2242.00,791.48 L2242.20,791.00 L2242.40,790.48 L2242.60,789.92 L2242.80,789.32 L2243.00,788.68 L2243.20,788.01 L2243.40,787.30 L2243.60,786.55 L2243.80,785.77 L2244.00,784.96 L2244.20,784.11 L2244.40,783.24 L2244.60,782.34 L2244.80,781.40 L2245.00,780.45 L2245.20,779.46 L2245.40,778.45 L2245.60,777.42 L2245.80,776.36 L2246.00,775.29 L2246.20,774.19 L2246.40,773.08 L2246.60,771.94 L2246.80,770.79 L2247.00,769.62 L2247.20,768.44 L2247.40,767.24 L2247.60,766.03 L2247.80,764.80" stroke="#008000" stroke-opacity="0.8" stroke-width="4.17"/>
</g>
<path d="M289.00,795.0 v9.72 M504.00,795.0 v9.72 M718.00,795.0 v9.72 M933.00,795.0 v9.72 M1147.00,795.0 v9.72 M1362.00,795.0 v9.72 M1576.00,795.0 v9.72 M1791.00,795.0 v9.72 M289.0,110.00 h-9.72 M289.0,214.00 h-9.72 M289.0,317.00 h-9.72 M289.0,421.00 h-9.72 M289.0,525.00 h-9.72 M289.0,628.00 h-9.72 M289.0,732.00 h-9.72 M1791.0,795.00 h9.72 M1791.0,691.00 h9.72 M1791.0,588.00 h9.72 M1791.0,484.00 h9.72 M1791.0,380.00 h9.72 M1791.0,276.00 h9.72 M1791.0,173.00 h9.72 M1791.0,69.00 h9.72" stroke="#000" stroke-width="2.2" fill="none"/>
<rect x="289.0" y="48.0" width="1502.0" height="747.0" fill="none" stroke="#000" stroke-width="2.22"/>
<text x="289.00" y="847.6" font-size="44.44" text-anchor="middle" fill="#000">36</text>
<text x="503.57" y="847.6" font-size="44.44" text-anchor="middle" fill="#000">37</text>
<text x="718.14" y="847.6" font-size="44.44" text-anchor="middle" fill="#000">38</text>
<text x="932.71" y="847.6" font-size="44.44" text-anchor="middle" fill="#000">39</text>
<text x="1147.29" y="847.6" font-size="44.44" text-anchor="middle" fill="#000">40</text>
<text x="1361.86" y="847.6" font-size="44.44" text-anchor="middle" fill="#000">41</text>
<text x="1576.43" y="847.6" font-size="44.44" text-anchor="middle" fill="#000">42</text>
<text x="1791.00" y="847.6" font-size="44.44" text-anchor="middle" fill="#000">43</text>
<text x="269.6" y="126.90" font-size="44.44" text-anchor="end" fill="#0000ff">−102.5</text>
<text x="269.6" y="230.90" font-size="44.44" text-anchor="end" fill="#0000ff">−105.0</text>
<text x="269.6" y="333.90" font-size="44.44" text-anchor="end" fill="#0000ff">−107.5</text>
<text x="269.6" y="437.90" font-size="44.44" text-anchor="end" fill="#0000ff">−110.0</text>
<text x="269.6" y="541.90" font-size="44.44" text-anchor="end" fill="#0000ff">−112.5</text>
<text x="269.6" y="644.90" font-size="44.44" text-anchor="end" fill="#0000ff">−115.0</text>
<text x="269.6" y="748.90" font-size="44.44" text-anchor="end" fill="#0000ff">−117.5</text>
<text x="1810.4" y="811.90" font-size="44.44" text-anchor="start" fill="#ff0000">0</text>
<text x="1810.4" y="707.90" font-size="44.44" text-anchor="start" fill="#ff0000">25</text>
<text x="1810.4" y="604.90" font-size="44.44" text-anchor="start" fill="#ff0000">50</text>
<text x="1810.4" y="500.90" font-size="44.44" text-anchor="start" fill="#ff0000">75</text>
<text x="1810.4" y="396.90" font-size="44.44" text-anchor="start" fill="#ff0000">100</text>
<text x="1810.4" y="292.90" font-size="44.44" text-anchor="start" fill="#ff0000">125</text>
<text x="1810.4" y="189.90" font-size="44.44" text-anchor="start" fill="#ff0000">150</text>
<text x="1810.4" y="85.90" font-size="44.44" text-anchor="start" fill="#ff0000">175</text>
<text x="1039.3" y="902" font-size="44.44" text-anchor="middle" fill="#000">Day of Year (2026)</text>
<text transform="translate(83.5,422.4) rotate(-90)" font-size="44.44" text-anchor="middle" fill="#000">Focal Plane Temp (degC)</text>
<text transform="translate(1939,422.4) rotate(-90)" font-size="44.44" text-anchor="middle" fill="#000">Sun Angle (degree)</text>
<rect x="1575.4" y="851.6" width="205" height="108.8" fill="#fff" fill-opacity="0.8" stroke="#cccccc" stroke-opacity="0.8" stroke-width="2.78"/>
<path d="M1584.2,869.9 h44.4" stroke="#0000ff" stroke-width="8.33" stroke-linecap="square"/>
<path d="M1584.2,904 h44.4" stroke="#ff0000" stroke-opacity="0.8" stroke-width="4.17" stroke-linecap="square"/>
<path d="M1584.2,937.8 h44.4" stroke="#008000" stroke-opacity="0.8" stroke-width="4.17" stroke-linecap="square"/>
<text x="1646.5" y="876.8" font-size="22.22" fill="#000">Focal Temp</text>
<text x="1646.5" y="911.6" font-size="22.22" fill="#000">Sun Angle</text>
<text x="1646.5" y="945.6" font-size="22.22" fill="#000">Altitude</text>
</svg></body></html>
